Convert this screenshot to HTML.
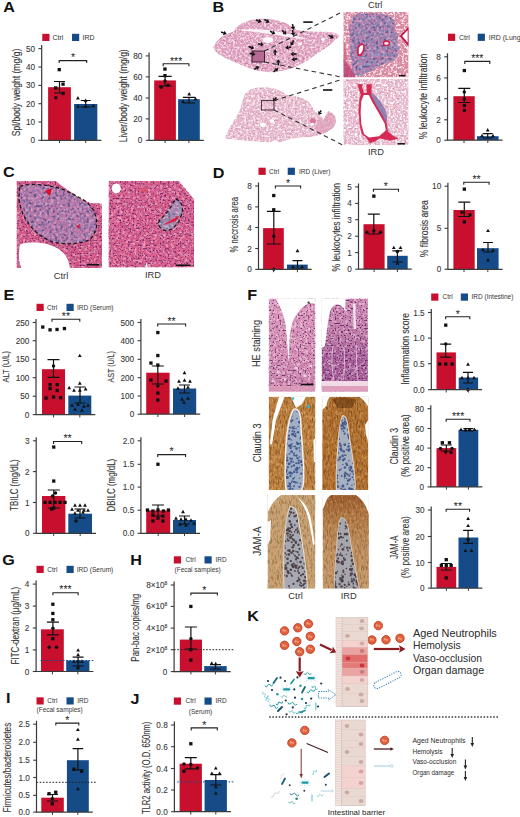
<!DOCTYPE html>
<html><head><meta charset="utf-8"><style>
html,body{margin:0;padding:0;background:#fff;width:520px;height:817px;overflow:hidden}
svg{display:block}
text{font-family:"Liberation Sans", sans-serif}
</style></head><body>
<svg width="520" height="817" viewBox="0 0 520 817">
<rect width="520" height="817" fill="#fff"/>
<defs>
<filter id="spW" x="0" y="0" width="100%" height="100%" filterUnits="objectBoundingBox" color-interpolation-filters="sRGB"><feTurbulence type="fractalNoise" baseFrequency="0.45" numOctaves="2" seed="4"/><feColorMatrix type="matrix" values="0 0 0 0 1.000  0 0 0 0 1.000  0 0 0 0 1.000  5 0 0 0 -2.3"/></filter>
<filter id="spW2" x="0" y="0" width="100%" height="100%" filterUnits="objectBoundingBox" color-interpolation-filters="sRGB"><feTurbulence type="fractalNoise" baseFrequency="0.35" numOctaves="2" seed="9"/><feColorMatrix type="matrix" values="0 0 0 0 1.000  0 0 0 0 0.941  0 0 0 0 0.973  5 0 0 0 -2.4"/></filter>
<filter id="spP" x="0" y="0" width="100%" height="100%" filterUnits="objectBoundingBox" color-interpolation-filters="sRGB"><feTurbulence type="fractalNoise" baseFrequency="0.45" numOctaves="1" seed="7"/><feColorMatrix type="matrix" values="0 0 0 0 0.314  0 0 0 0 0.078  0 0 0 0 0.353  0 6 0 0 -3.3"/></filter>
<filter id="spP2" x="0" y="0" width="100%" height="100%" filterUnits="objectBoundingBox" color-interpolation-filters="sRGB"><feTurbulence type="fractalNoise" baseFrequency="0.6" numOctaves="1" seed="3"/><feColorMatrix type="matrix" values="0 0 0 0 0.314  0 0 0 0 0.078  0 0 0 0 0.353  0 6 0 0 -3.3"/></filter>
<filter id="spB" x="0" y="0" width="100%" height="100%" filterUnits="objectBoundingBox" color-interpolation-filters="sRGB"><feTurbulence type="fractalNoise" baseFrequency="0.38" numOctaves="1" seed="11"/><feColorMatrix type="matrix" values="0 0 0 0 0.157  0 0 0 0 0.216  0 0 0 0 0.451  0 6 0 0 -3.2"/></filter>
<filter id="spBl" x="0" y="0" width="100%" height="100%" filterUnits="objectBoundingBox" color-interpolation-filters="sRGB"><feTurbulence type="fractalNoise" baseFrequency="0.3" numOctaves="2" seed="12"/><feColorMatrix type="matrix" values="0 0 0 0 0.392  0 0 0 0 0.373  0 0 0 0 0.667  0 0 4 0 -1.6"/></filter>
<filter id="spD" x="0" y="0" width="100%" height="100%" filterUnits="objectBoundingBox" color-interpolation-filters="sRGB"><feTurbulence type="fractalNoise" baseFrequency="0.8 0.2" numOctaves="2" seed="5"/><feColorMatrix type="matrix" values="0 0 0 0 0.431  0 0 0 0 0.235  0 0 0 0 0.078  4 0 0 0 -1.9"/></filter>
<filter id="spL" x="0" y="0" width="100%" height="100%" filterUnits="objectBoundingBox" color-interpolation-filters="sRGB"><feTurbulence type="fractalNoise" baseFrequency="0.5 0.25" numOctaves="2" seed="21"/><feColorMatrix type="matrix" values="0 0 0 0 0.922  0 0 0 0 0.725  0 0 0 0 0.471  4 0 0 0 -1.9"/></filter>
<filter id="spDk" x="0" y="0" width="100%" height="100%" filterUnits="objectBoundingBox" color-interpolation-filters="sRGB"><feTurbulence type="fractalNoise" baseFrequency="0.32" numOctaves="1" seed="17"/><feColorMatrix type="matrix" values="0 0 0 0 0.196  0 0 0 0 0.137  0 0 0 0 0.176  0 6 0 0 -3.3"/></filter>
<filter id="spPk" x="0" y="0" width="100%" height="100%" filterUnits="objectBoundingBox" color-interpolation-filters="sRGB"><feTurbulence type="fractalNoise" baseFrequency="0.3" numOctaves="2" seed="23"/><feColorMatrix type="matrix" values="0 0 0 0 0.882  0 0 0 0 0.471  0 0 0 0 0.647  5 0 0 0 -2.2"/></filter>
<linearGradient id="gHE2" x1="0" y1="0" x2="0" y2="1"><stop offset="0" stop-color="#cd88b0"/><stop offset="0.4" stop-color="#c07aa6"/><stop offset="0.6" stop-color="#a85e98"/><stop offset="1" stop-color="#a05890"/></linearGradient>
<linearGradient id="gJA2" x1="0" y1="0" x2="0" y2="1"><stop offset="0" stop-color="#9a5a2c"/><stop offset="0.25" stop-color="#b07a48"/><stop offset="0.6" stop-color="#bf9264"/><stop offset="1" stop-color="#c29a6c"/></linearGradient>
<linearGradient id="gHE1" x1="0" y1="0" x2="0" y2="1"><stop offset="0" stop-color="#dc96ba"/><stop offset="0.6" stop-color="#d48cb2"/><stop offset="1" stop-color="#c87ea8"/></linearGradient>
<filter id="blur1"><feGaussianBlur stdDeviation="0.45"/></filter>
<filter id="blur2"><feGaussianBlur stdDeviation="0.8"/></filter>
<clipPath id="cl_l1"><path d="M213.0 47.5L216.0 42.0L221.0 37.0L228.0 33.5L234.0 31.0L236.0 27.5L242.0 23.0L250.0 20.0L258.0 18.8L267.0 18.6L276.0 19.8L285.0 22.5L292.0 26.5L297.0 30.0L305.0 31.0L315.0 31.5L326.0 31.5L334.0 32.5L340.0 34.5L338.0 38.0L330.0 45.0L320.0 52.0L310.0 59.0L300.0 65.0L292.0 68.5L282.0 71.0L270.0 72.5L258.0 71.0L247.0 67.5L236.0 63.0L226.0 58.5L218.0 54.0L214.0 50.0Z"/></clipPath>
<clipPath id="cl_l2"><path d="M224.5 138.5L228.0 130.0L232.5 123.0L237.0 115.0L240.5 108.0L242.5 100.0L245.0 93.5L250.0 89.5L257.0 87.5L265.0 87.0L273.0 88.0L281.0 91.0L287.0 94.5L295.0 96.0L303.0 98.0L309.0 102.0L314.2 109.4L319.0 114.5L323.8 119.0L325.8 114.5L328.2 110.9L330.0 111.5L333.0 113.5L335.4 116.2L336.0 120.0L335.9 122.9L333.5 127.7L326.7 132.5L319.0 135.4L309.4 137.3L303.0 137.5L293.0 138.5L284.0 141.0L279.0 142.5L275.0 140.0L270.0 142.5L262.0 142.0L253.0 141.5L243.0 140.5L233.0 139.5Z"/></clipPath>
<clipPath id="cl_i1"><path d="M343.3 11.8L408.6 11.8L408.6 77.4L343.3 77.4Z"/></clipPath>
<clipPath id="cl_i1b"><path d="M360 13 C366 15 372 12 378 14 C384 13 390 16 394 20 C396 24 393 28 397 33 C399 38 396 42 399 47 C401 52 397 56 395 60 C390 63 384 62 380 66 C375 69 370 71 366 73 C362 76 357 77 354 74 C351 70 353 64 351 59 C349 54 352 50 350 45 C348 40 351 36 349 31 C348 26 352 22 353 18 C355 15 357 13 360 13Z"/></clipPath>
<clipPath id="cl_i2"><path d="M343.3 79.0L408.6 79.0L408.6 145.2L343.3 145.2Z"/></clipPath>
<clipPath id="cl_c1"><path d="M16.5 181.0L102.0 181.0L102.0 268.0L16.5 268.0Z"/></clipPath>
<clipPath id="cl_c1i"><path d="M20.1 186.4 C25 184 38 184 46.5 185.4 C55 187 60 188 63.5 189.6 C70 193 75 195 78.3 197 C84 200 87 202 88.9 204.4 C93 209 95 212 95.2 215 C97 220 97 224 96.3 227.7 C95 232 93 236 91 238.3 C88 241 84 242 80.4 242.5 C73 244 68 244 63.5 243.6 C57 243 52 242 48.7 240.4 C43 237 39 235 36 232 C32 228 29 225 27.5 221.4 C24 217 22 213 21.2 208.7 C19.5 204 19 201 19 198 C19 193 19.5 189 20.1 186.4Z"/></clipPath>
<clipPath id="cl_c2"><path d="M108.5 181.0L179.0 181.0L194.0 199.0L194.0 267.5L108.5 267.5Z"/></clipPath>
<clipPath id="cl_c2l"><path d="M175.8 199.2 C178 200 180 201 180.7 202.5 C182 205 182.5 208 182.4 210.8 C182 214 180.5 218 179 220.7 C177.5 223.5 176 225.5 174 227.3 C172 229 170 230 167.5 230.6 C165 230.8 162.5 229.8 160.9 228.1 C159 226.5 158 224.8 158.4 223.1 C159 220.5 160.5 219 162.5 217.4 C164.5 215.5 166 213.5 167.5 211.6 C169.5 209 171 206.5 172.5 204.1 C173.5 202 174.5 200.5 175.8 199.2Z"/></clipPath>
<clipPath id="cl_he1"><path d="M268.7 298.5L315.4 298.5L315.4 391.7L268.7 391.7Z"/></clipPath>
<clipPath id="cl_he2"><path d="M321.6 298.5L367.9 298.5L367.9 391.7L321.6 391.7Z"/></clipPath>
<clipPath id="cl_cl1"><path d="M268.7 396.7L315.4 396.7L315.4 490.1L268.7 490.1Z"/></clipPath>
<clipPath id="cl_cl1b"><path d="M294 410 C298 409 300 414 300 422 C301 440 303 460 303 475 C303 484 302 490.1 300 490.1 L287 490.1 C285 480 286 466 286.5 450 C287 435 289 420 294 410Z"/></clipPath>
<clipPath id="cl_cl2"><path d="M322.2 396.7L368.3 396.7L368.3 490.1L322.2 490.1Z"/></clipPath>
<clipPath id="cl_cl2b"><path d="M343 416 C346 416 347 422 348 430 C350 445 353 460 354 475 C355 484 355 490.1 354 490.1 L337 490.1 C336 478 337 465 338 450 C339 435 340 420 343 416Z"/></clipPath>
<clipPath id="cl_ja1"><path d="M267.5 495.1L315.4 495.1L315.4 588.7L267.5 588.7Z"/></clipPath>
<clipPath id="cl_ja1c"><path d="M290.5 507 C294.5 507 296.5 511 297.5 517 C300 532 303 550 305 566 C306 576 307 583 307 588.7 L284.5 588.7 C284 575 284 560 284.5 545 C285.5 530 286.5 515 290.5 507Z"/></clipPath>
<clipPath id="cl_ja2"><path d="M322.6 495.1L368.9 495.1L368.9 588.7L322.6 588.7Z"/></clipPath>
<clipPath id="cl_ja2c"><path d="M341 518 C345 517 347 523 348.5 531 C351 547 354 564 357 579 L359 588.7 L334.5 588.7 C334.5 575 336 560 337 545 C338 532 338.5 522 341 518Z"/></clipPath></defs>
<rect x="42.3" y="33.8" width="7.2" height="7.2" fill="#c8102e"/>
<text x="52.5" y="39.9" font-size="7" text-anchor="start" fill="#333" font-weight="normal" >Ctrl</text>
<rect x="72.0" y="33.8" width="7.2" height="7.2" fill="#154c88"/>
<text x="82.5" y="39.9" font-size="7" text-anchor="start" fill="#333" font-weight="normal" >IRD</text>
<rect x="48.1" y="87.2" width="22.8" height="53.1" fill="#c8102e"/>
<rect x="74.1" y="104.0" width="23.2" height="36.3" fill="#154c88"/>
<rect x="57.6" y="68.0" width="3.3" height="3.3" fill="#111"/>
<rect x="54.1" y="86.3" width="3.3" height="3.3" fill="#111"/>
<rect x="61.4" y="82.5" width="3.3" height="3.3" fill="#111"/>
<rect x="61.4" y="91.8" width="3.3" height="3.3" fill="#111"/>
<circle cx="55.8" cy="97.7" r="1.75" fill="#111"/>
<path d="M77.9 96.0L79.8 99.4L76.0 99.4Z" fill="#111"/>
<path d="M85.6 98.5L87.5 101.9L83.7 101.9Z" fill="#111"/>
<path d="M77.9 104.3L79.8 107.7L76.0 107.7Z" fill="#111"/>
<path d="M85.6 104.3L87.5 107.7L83.7 107.7Z" fill="#111"/>
<path d="M93.3 103.8L95.2 107.2L91.4 107.2Z" fill="#111"/>
<path d="M59.5 81.5V93.0M54.0 81.5H65.0M54.0 93.0H65.0" stroke="#111" stroke-width="1.2" fill="none"/>
<path d="M85.7 100.5V107.0M80.7 100.5H90.7M80.7 107.0H90.7" stroke="#111" stroke-width="1.2" fill="none"/>
<path d="M41.7 45.1V140.3H101.3" stroke="#3a3a3a" stroke-width="1.2" fill="none"/>
<path d="M38.4 48.6H41.7" stroke="#3a3a3a" stroke-width="1.1"/>
<text x="35.0" y="51.6" font-size="8.2" text-anchor="end" fill="#383838" font-weight="normal" stroke="#404040" stroke-width="0.1">50</text>
<path d="M38.4 67.0H41.7" stroke="#3a3a3a" stroke-width="1.1"/>
<text x="35.0" y="70.0" font-size="8.2" text-anchor="end" fill="#383838" font-weight="normal" stroke="#404040" stroke-width="0.1">40</text>
<path d="M38.4 85.4H41.7" stroke="#3a3a3a" stroke-width="1.1"/>
<text x="35.0" y="88.4" font-size="8.2" text-anchor="end" fill="#383838" font-weight="normal" stroke="#404040" stroke-width="0.1">30</text>
<path d="M38.4 103.7H41.7" stroke="#3a3a3a" stroke-width="1.1"/>
<text x="35.0" y="106.7" font-size="8.2" text-anchor="end" fill="#383838" font-weight="normal" stroke="#404040" stroke-width="0.1">20</text>
<path d="M38.4 122.0H41.7" stroke="#3a3a3a" stroke-width="1.1"/>
<text x="35.0" y="125.0" font-size="8.2" text-anchor="end" fill="#383838" font-weight="normal" stroke="#404040" stroke-width="0.1">10</text>
<path d="M38.4 140.3H41.7" stroke="#3a3a3a" stroke-width="1.1"/>
<text x="35.0" y="143.3" font-size="8.2" text-anchor="end" fill="#383838" font-weight="normal" stroke="#404040" stroke-width="0.1">0</text>
<path d="M59.5 140.3V143.1" stroke="#3a3a3a" stroke-width="1"/>
<path d="M85.7 140.3V143.1" stroke="#3a3a3a" stroke-width="1"/>
<path d="M59.2 63.1V60.6H86.7V63.1" stroke="#222" stroke-width="1.1" fill="none"/>
<text x="73.0" y="61.3" font-size="10.5" text-anchor="middle" fill="#222" font-weight="normal" >*</text>
<text transform="translate(20.1,92.5) rotate(-90)" font-size="10" text-anchor="middle" fill="#383838" stroke="#383838" stroke-width="0.12" textLength="87.5" lengthAdjust="spacingAndGlyphs">Spl/body weight (mg/g)</text>
<rect x="154.2" y="80.4" width="21.7" height="59.9" fill="#c8102e"/>
<rect x="178.1" y="99.2" width="21.7" height="41.1" fill="#154c88"/>
<rect x="163.3" y="67.4" width="3.3" height="3.3" fill="#111"/>
<rect x="163.3" y="74.0" width="3.3" height="3.3" fill="#111"/>
<circle cx="161.1" cy="87.3" r="1.75" fill="#111"/>
<circle cx="168.0" cy="85.2" r="1.75" fill="#111"/>
<circle cx="165.0" cy="81.0" r="1.75" fill="#111"/>
<path d="M189.2 92.0L191.1 95.4L187.3 95.4Z" fill="#111"/>
<path d="M183.0 99.3L184.9 102.7L181.1 102.7Z" fill="#111"/>
<path d="M195.5 96.8L197.4 100.2L193.6 100.2Z" fill="#111"/>
<path d="M165.1 76.4V86.0M158.5 76.4H171.7M158.5 86.0H171.7" stroke="#111" stroke-width="1.2" fill="none"/>
<path d="M189.0 97.4V103.0M182.9 97.4H195.1M182.9 103.0H195.1" stroke="#111" stroke-width="1.2" fill="none"/>
<path d="M149.1 52.4V140.3H203.8" stroke="#3a3a3a" stroke-width="1.2" fill="none"/>
<path d="M145.8 55.9H149.1" stroke="#3a3a3a" stroke-width="1.1"/>
<text x="142.4" y="58.9" font-size="8.2" text-anchor="end" fill="#383838" font-weight="normal" stroke="#404040" stroke-width="0.1">80</text>
<path d="M145.8 76.9H149.1" stroke="#3a3a3a" stroke-width="1.1"/>
<text x="142.4" y="79.9" font-size="8.2" text-anchor="end" fill="#383838" font-weight="normal" stroke="#404040" stroke-width="0.1">60</text>
<path d="M145.8 98.0H149.1" stroke="#3a3a3a" stroke-width="1.1"/>
<text x="142.4" y="101.0" font-size="8.2" text-anchor="end" fill="#383838" font-weight="normal" stroke="#404040" stroke-width="0.1">40</text>
<path d="M145.8 118.9H149.1" stroke="#3a3a3a" stroke-width="1.1"/>
<text x="142.4" y="121.9" font-size="8.2" text-anchor="end" fill="#383838" font-weight="normal" stroke="#404040" stroke-width="0.1">20</text>
<path d="M145.8 140.3H149.1" stroke="#3a3a3a" stroke-width="1.1"/>
<text x="142.4" y="143.3" font-size="8.2" text-anchor="end" fill="#383838" font-weight="normal" stroke="#404040" stroke-width="0.1">0</text>
<path d="M165.1 140.3V143.1" stroke="#3a3a3a" stroke-width="1"/>
<path d="M188.9 140.3V143.1" stroke="#3a3a3a" stroke-width="1"/>
<path d="M163.2 66.3V63.8H188.9V66.3" stroke="#222" stroke-width="1.1" fill="none"/>
<text x="176.1" y="64.5" font-size="10.5" text-anchor="middle" fill="#222" font-weight="normal" >***</text>
<text transform="translate(127.4,95.8) rotate(-90)" font-size="10" text-anchor="middle" fill="#383838" stroke="#383838" stroke-width="0.12" textLength="93" lengthAdjust="spacingAndGlyphs">Liver/body weight (mg/g)</text>
<rect x="448.0" y="33.7" width="7.2" height="7.2" fill="#c8102e"/>
<text x="459.0" y="39.8" font-size="7" text-anchor="start" fill="#333" font-weight="normal" >Ctrl</text>
<rect x="477.7" y="33.7" width="7.2" height="7.2" fill="#154c88"/>
<text x="488.7" y="39.8" font-size="7" text-anchor="start" fill="#333" font-weight="normal" >IRD (Lung)</text>
<rect x="453.4" y="96.2" width="21.3" height="44.0" fill="#c8102e"/>
<rect x="477.0" y="136.2" width="21.6" height="4.0" fill="#154c88"/>
<rect x="462.7" y="68.9" width="3.3" height="3.3" fill="#111"/>
<circle cx="464.3" cy="92.1" r="1.75" fill="#111"/>
<circle cx="464.3" cy="99.0" r="1.75" fill="#111"/>
<rect x="462.7" y="103.9" width="3.3" height="3.3" fill="#111"/>
<circle cx="464.3" cy="110.4" r="1.75" fill="#111"/>
<path d="M487.7 128.1L489.6 131.5L485.8 131.5Z" fill="#111"/>
<path d="M482.0 133.8L483.9 137.2L480.1 137.2Z" fill="#111"/>
<path d="M493.0 133.8L494.9 137.2L491.1 137.2Z" fill="#111"/>
<path d="M464.3 88.3V102.5M458.3 88.3H470.3M458.3 102.5H470.3" stroke="#111" stroke-width="1.2" fill="none"/>
<path d="M487.7 133.6V138.0M482.7 133.6H492.7M482.7 138.0H492.7" stroke="#111" stroke-width="1.2" fill="none"/>
<path d="M447.5 53.3V140.2H502.6" stroke="#3a3a3a" stroke-width="1.2" fill="none"/>
<path d="M444.2 56.8H447.5" stroke="#3a3a3a" stroke-width="1.1"/>
<text x="440.8" y="59.8" font-size="8.2" text-anchor="end" fill="#383838" font-weight="normal" stroke="#404040" stroke-width="0.1">8</text>
<path d="M444.2 77.9H447.5" stroke="#3a3a3a" stroke-width="1.1"/>
<text x="440.8" y="80.9" font-size="8.2" text-anchor="end" fill="#383838" font-weight="normal" stroke="#404040" stroke-width="0.1">6</text>
<path d="M444.2 98.7H447.5" stroke="#3a3a3a" stroke-width="1.1"/>
<text x="440.8" y="101.7" font-size="8.2" text-anchor="end" fill="#383838" font-weight="normal" stroke="#404040" stroke-width="0.1">4</text>
<path d="M444.2 119.8H447.5" stroke="#3a3a3a" stroke-width="1.1"/>
<text x="440.8" y="122.8" font-size="8.2" text-anchor="end" fill="#383838" font-weight="normal" stroke="#404040" stroke-width="0.1">2</text>
<path d="M444.2 140.2H447.5" stroke="#3a3a3a" stroke-width="1.1"/>
<text x="440.8" y="143.2" font-size="8.2" text-anchor="end" fill="#383838" font-weight="normal" stroke="#404040" stroke-width="0.1">0</text>
<path d="M464.0 140.2V143.0" stroke="#3a3a3a" stroke-width="1"/>
<path d="M487.8 140.2V143.0" stroke="#3a3a3a" stroke-width="1"/>
<path d="M464.8 63.9V61.4H489.8V63.9" stroke="#222" stroke-width="1.1" fill="none"/>
<text x="477.3" y="62.1" font-size="10.5" text-anchor="middle" fill="#222" font-weight="normal" >***</text>
<text transform="translate(427.0,96.5) rotate(-90)" font-size="10.6" text-anchor="middle" fill="#383838" stroke="#383838" stroke-width="0.12" textLength="85.6" lengthAdjust="spacingAndGlyphs">% leukocyte infiltration</text>
<rect x="258.5" y="167.7" width="7.2" height="7.2" fill="#c8102e"/>
<text x="269.0" y="173.6" font-size="6.5" text-anchor="start" fill="#333" font-weight="normal" >Ctrl</text>
<rect x="287.7" y="167.7" width="7.2" height="7.2" fill="#154c88"/>
<text x="299.0" y="173.6" font-size="6.5" text-anchor="start" fill="#333" font-weight="normal" >IRD (Liver)</text>
<rect x="263.1" y="228.1" width="20.7" height="41.3" fill="#c8102e"/>
<rect x="287.0" y="264.6" width="20.7" height="4.8" fill="#154c88"/>
<rect x="272.1" y="193.9" width="3.3" height="3.3" fill="#111"/>
<rect x="272.1" y="208.1" width="3.3" height="3.3" fill="#111"/>
<circle cx="273.8" cy="236.2" r="1.75" fill="#111"/>
<path d="M273.8 267.2L275.9 269.4L273.8 271.6L271.6 269.4Z" fill="#111"/>
<path d="M297.5 248.8L299.4 252.2L295.6 252.2Z" fill="#111"/>
<path d="M293.0 264.8L294.9 268.2L291.1 268.2Z" fill="#111"/>
<path d="M302.0 264.8L303.9 268.2L300.1 268.2Z" fill="#111"/>
<path d="M273.8 211.3V244.0M266.9 211.3H280.6M266.9 244.0H280.6" stroke="#111" stroke-width="1.2" fill="none"/>
<path d="M297.5 260.6V269.0M292.5 260.6H302.5M292.5 269.0H302.5" stroke="#111" stroke-width="1.2" fill="none"/>
<path d="M258.5 182.5V269.4H311.7" stroke="#3a3a3a" stroke-width="1.2" fill="none"/>
<path d="M255.2 186.0H258.5" stroke="#3a3a3a" stroke-width="1.1"/>
<text x="251.8" y="189.0" font-size="8.2" text-anchor="end" fill="#383838" font-weight="normal" stroke="#404040" stroke-width="0.1">8</text>
<path d="M255.2 206.9H258.5" stroke="#3a3a3a" stroke-width="1.1"/>
<text x="251.8" y="209.9" font-size="8.2" text-anchor="end" fill="#383838" font-weight="normal" stroke="#404040" stroke-width="0.1">6</text>
<path d="M255.2 227.5H258.5" stroke="#3a3a3a" stroke-width="1.1"/>
<text x="251.8" y="230.5" font-size="8.2" text-anchor="end" fill="#383838" font-weight="normal" stroke="#404040" stroke-width="0.1">4</text>
<path d="M255.2 248.5H258.5" stroke="#3a3a3a" stroke-width="1.1"/>
<text x="251.8" y="251.5" font-size="8.2" text-anchor="end" fill="#383838" font-weight="normal" stroke="#404040" stroke-width="0.1">2</text>
<path d="M255.2 269.4H258.5" stroke="#3a3a3a" stroke-width="1.1"/>
<text x="251.8" y="272.4" font-size="8.2" text-anchor="end" fill="#383838" font-weight="normal" stroke="#404040" stroke-width="0.1">0</text>
<path d="M273.5 269.4V272.2" stroke="#3a3a3a" stroke-width="1"/>
<path d="M297.4 269.4V272.2" stroke="#3a3a3a" stroke-width="1"/>
<path d="M275.4 188.5V186.0H300.6V188.5" stroke="#222" stroke-width="1.1" fill="none"/>
<text x="288.0" y="186.7" font-size="10.5" text-anchor="middle" fill="#222" font-weight="normal" >*</text>
<text transform="translate(237.5,224.7) rotate(-90)" font-size="10.6" text-anchor="middle" fill="#383838" stroke="#383838" stroke-width="0.12" textLength="55.6" lengthAdjust="spacingAndGlyphs">% necrosis area</text>
<rect x="363.5" y="224.2" width="21.1" height="45.0" fill="#c8102e"/>
<rect x="387.2" y="255.8" width="20.5" height="13.4" fill="#154c88"/>
<rect x="372.2" y="194.5" width="3.3" height="3.3" fill="#111"/>
<circle cx="366.9" cy="232.3" r="1.75" fill="#111"/>
<circle cx="373.8" cy="230.8" r="1.75" fill="#111"/>
<circle cx="380.5" cy="232.3" r="1.75" fill="#111"/>
<path d="M393.8 245.7L395.7 249.1L391.9 249.1Z" fill="#111"/>
<path d="M400.5 245.7L402.4 249.1L398.6 249.1Z" fill="#111"/>
<circle cx="397.4" cy="251.5" r="1.75" fill="#111"/>
<path d="M397.4 261.3L399.3 264.7L395.5 264.7Z" fill="#111"/>
<path d="M373.8 214.2V234.0M367.8 214.2H379.8M367.8 234.0H379.8" stroke="#111" stroke-width="1.2" fill="none"/>
<path d="M397.4 250.8V262.0M392.4 250.8H402.4M392.4 262.0H402.4" stroke="#111" stroke-width="1.2" fill="none"/>
<path d="M358.5 183.4V269.2H411.7" stroke="#3a3a3a" stroke-width="1.2" fill="none"/>
<path d="M355.2 186.9H358.5" stroke="#3a3a3a" stroke-width="1.1"/>
<text x="351.8" y="189.9" font-size="8.2" text-anchor="end" fill="#383838" font-weight="normal" stroke="#404040" stroke-width="0.1">5</text>
<path d="M355.2 203.4H358.5" stroke="#3a3a3a" stroke-width="1.1"/>
<text x="351.8" y="206.4" font-size="8.2" text-anchor="end" fill="#383838" font-weight="normal" stroke="#404040" stroke-width="0.1">4</text>
<path d="M355.2 219.7H358.5" stroke="#3a3a3a" stroke-width="1.1"/>
<text x="351.8" y="222.7" font-size="8.2" text-anchor="end" fill="#383838" font-weight="normal" stroke="#404040" stroke-width="0.1">3</text>
<path d="M355.2 236.2H358.5" stroke="#3a3a3a" stroke-width="1.1"/>
<text x="351.8" y="239.2" font-size="8.2" text-anchor="end" fill="#383838" font-weight="normal" stroke="#404040" stroke-width="0.1">2</text>
<path d="M355.2 252.6H358.5" stroke="#3a3a3a" stroke-width="1.1"/>
<text x="351.8" y="255.6" font-size="8.2" text-anchor="end" fill="#383838" font-weight="normal" stroke="#404040" stroke-width="0.1">1</text>
<path d="M355.2 269.2H358.5" stroke="#3a3a3a" stroke-width="1.1"/>
<text x="351.8" y="272.2" font-size="8.2" text-anchor="end" fill="#383838" font-weight="normal" stroke="#404040" stroke-width="0.1">0</text>
<path d="M374.1 269.2V272.0" stroke="#3a3a3a" stroke-width="1"/>
<path d="M397.4 269.2V272.0" stroke="#3a3a3a" stroke-width="1"/>
<path d="M373.4 191.7V189.2H398.5V191.7" stroke="#222" stroke-width="1.1" fill="none"/>
<text x="385.9" y="189.9" font-size="10.5" text-anchor="middle" fill="#222" font-weight="normal" >*</text>
<text transform="translate(340.3,227.2) rotate(-90)" font-size="10.6" text-anchor="middle" fill="#383838" stroke="#383838" stroke-width="0.12" textLength="88.5" lengthAdjust="spacingAndGlyphs">% leukocytes infiltration</text>
<rect x="453.4" y="210.0" width="21.3" height="59.3" fill="#c8102e"/>
<rect x="477.0" y="248.2" width="21.6" height="21.1" fill="#154c88"/>
<rect x="462.7" y="187.5" width="3.3" height="3.3" fill="#111"/>
<circle cx="462.0" cy="212.2" r="1.75" fill="#111"/>
<circle cx="470.0" cy="214.8" r="1.75" fill="#111"/>
<rect x="462.7" y="220.3" width="3.3" height="3.3" fill="#111"/>
<path d="M488.0 228.7L489.9 232.1L486.1 232.1Z" fill="#111"/>
<path d="M483.0 247.7L484.9 251.1L481.1 251.1Z" fill="#111"/>
<path d="M493.0 248.3L494.9 251.7L491.1 251.7Z" fill="#111"/>
<path d="M488.0 258.1L489.9 261.5L486.1 261.5Z" fill="#111"/>
<path d="M464.3 202.2V216.5M458.3 202.2H470.3M458.3 216.5H470.3" stroke="#111" stroke-width="1.2" fill="none"/>
<path d="M488.0 242.5V252.0M483.0 242.5H493.0M483.0 252.0H493.0" stroke="#111" stroke-width="1.2" fill="none"/>
<path d="M447.9 182.7V269.3H502.6" stroke="#3a3a3a" stroke-width="1.2" fill="none"/>
<path d="M444.6 186.2H447.9" stroke="#3a3a3a" stroke-width="1.1"/>
<text x="441.2" y="189.2" font-size="8.2" text-anchor="end" fill="#383838" font-weight="normal" stroke="#404040" stroke-width="0.1">10</text>
<path d="M444.6 228.3H447.9" stroke="#3a3a3a" stroke-width="1.1"/>
<text x="441.2" y="231.3" font-size="8.2" text-anchor="end" fill="#383838" font-weight="normal" stroke="#404040" stroke-width="0.1">5</text>
<path d="M444.6 269.3H447.9" stroke="#3a3a3a" stroke-width="1.1"/>
<text x="441.2" y="272.3" font-size="8.2" text-anchor="end" fill="#383838" font-weight="normal" stroke="#404040" stroke-width="0.1">0</text>
<path d="M464.0 269.3V272.1" stroke="#3a3a3a" stroke-width="1"/>
<path d="M487.8 269.3V272.1" stroke="#3a3a3a" stroke-width="1"/>
<path d="M463.8 184.8V182.3H489.1V184.8" stroke="#222" stroke-width="1.1" fill="none"/>
<text x="476.5" y="183.0" font-size="10.5" text-anchor="middle" fill="#222" font-weight="normal" >**</text>
<text transform="translate(428.3,228.7) rotate(-90)" font-size="10.6" text-anchor="middle" fill="#383838" stroke="#383838" stroke-width="0.12" textLength="57.1" lengthAdjust="spacingAndGlyphs">% fibrosis area</text>
<rect x="36.5" y="303.8" width="7.2" height="7.2" fill="#c8102e"/>
<text x="47.0" y="309.7" font-size="6.5" text-anchor="start" fill="#333" font-weight="normal" >Ctrl</text>
<rect x="66.5" y="303.8" width="7.2" height="7.2" fill="#154c88"/>
<text x="77.0" y="309.7" font-size="6.5" text-anchor="start" fill="#333" font-weight="normal" >IRD (Serum)</text>
<rect x="42.0" y="369.2" width="23.0" height="45.4" fill="#c8102e"/>
<rect x="68.3" y="395.6" width="23.0" height="19.0" fill="#154c88"/>
<rect x="41.1" y="325.4" width="3.3" height="3.3" fill="#111"/>
<rect x="48.4" y="328.2" width="3.3" height="3.3" fill="#111"/>
<rect x="55.4" y="327.8" width="3.3" height="3.3" fill="#111"/>
<rect x="62.8" y="326.9" width="3.3" height="3.3" fill="#111"/>
<circle cx="53.5" cy="366.0" r="1.75" fill="#111"/>
<rect x="48.4" y="383.0" width="3.3" height="3.3" fill="#111"/>
<rect x="55.6" y="383.0" width="3.3" height="3.3" fill="#111"/>
<rect x="48.4" y="386.9" width="3.3" height="3.3" fill="#111"/>
<rect x="55.6" y="388.8" width="3.3" height="3.3" fill="#111"/>
<rect x="44.4" y="396.4" width="3.3" height="3.3" fill="#111"/>
<rect x="51.9" y="395.4" width="3.3" height="3.3" fill="#111"/>
<rect x="59.0" y="396.1" width="3.3" height="3.3" fill="#111"/>
<path d="M79.8 353.7L81.7 357.1L77.9 357.1Z" fill="#111"/>
<path d="M79.8 381.3L81.7 384.7L77.9 384.7Z" fill="#111"/>
<path d="M69.2 385.8L71.1 389.2L67.3 389.2Z" fill="#111"/>
<path d="M74.0 388.3L75.9 391.7L72.1 391.7Z" fill="#111"/>
<path d="M79.8 388.3L81.7 391.7L77.9 391.7Z" fill="#111"/>
<path d="M85.6 387.1L87.5 390.5L83.7 390.5Z" fill="#111"/>
<path d="M72.0 403.3L73.9 406.7L70.1 406.7Z" fill="#111"/>
<path d="M78.0 402.3L79.9 405.7L76.1 405.7Z" fill="#111"/>
<path d="M84.0 404.3L85.9 407.7L82.1 407.7Z" fill="#111"/>
<path d="M88.0 403.3L89.9 406.7L86.1 406.7Z" fill="#111"/>
<path d="M75.0 407.3L76.9 410.7L73.1 410.7Z" fill="#111"/>
<path d="M82.0 408.3L83.9 411.7L80.1 411.7Z" fill="#111"/>
<path d="M53.5 359.6V377.3M47.5 359.6H59.5M47.5 377.3H59.5" stroke="#111" stroke-width="1.2" fill="none"/>
<path d="M80.0 387.0V403.0M74.5 387.0H85.5M74.5 403.0H85.5" stroke="#111" stroke-width="1.2" fill="none"/>
<path d="M36.0 319.0V414.6H95.3" stroke="#3a3a3a" stroke-width="1.2" fill="none"/>
<path d="M32.7 322.5H36.0" stroke="#3a3a3a" stroke-width="1.1"/>
<text x="29.3" y="325.5" font-size="8.2" text-anchor="end" fill="#383838" font-weight="normal" stroke="#404040" stroke-width="0.1">250</text>
<path d="M32.7 340.7H36.0" stroke="#3a3a3a" stroke-width="1.1"/>
<text x="29.3" y="343.7" font-size="8.2" text-anchor="end" fill="#383838" font-weight="normal" stroke="#404040" stroke-width="0.1">200</text>
<path d="M32.7 359.3H36.0" stroke="#3a3a3a" stroke-width="1.1"/>
<text x="29.3" y="362.3" font-size="8.2" text-anchor="end" fill="#383838" font-weight="normal" stroke="#404040" stroke-width="0.1">150</text>
<path d="M32.7 377.7H36.0" stroke="#3a3a3a" stroke-width="1.1"/>
<text x="29.3" y="380.7" font-size="8.2" text-anchor="end" fill="#383838" font-weight="normal" stroke="#404040" stroke-width="0.1">100</text>
<path d="M32.7 396.2H36.0" stroke="#3a3a3a" stroke-width="1.1"/>
<text x="29.3" y="399.2" font-size="8.2" text-anchor="end" fill="#383838" font-weight="normal" stroke="#404040" stroke-width="0.1">50</text>
<path d="M32.7 414.6H36.0" stroke="#3a3a3a" stroke-width="1.1"/>
<text x="29.3" y="417.6" font-size="8.2" text-anchor="end" fill="#383838" font-weight="normal" stroke="#404040" stroke-width="0.1">0</text>
<path d="M53.5 414.6V417.4" stroke="#3a3a3a" stroke-width="1"/>
<path d="M79.8 414.6V417.4" stroke="#3a3a3a" stroke-width="1"/>
<path d="M52.0 321.7V319.2H79.8V321.7" stroke="#222" stroke-width="1.1" fill="none"/>
<text x="65.9" y="319.9" font-size="10.5" text-anchor="middle" fill="#222" font-weight="normal" >**</text>
<text transform="translate(8.9,366.8) rotate(-90)" font-size="9.6" text-anchor="middle" fill="#383838" stroke="#383838" stroke-width="0.12" textLength="31.5" lengthAdjust="spacingAndGlyphs">ALT (U/L)</text>
<rect x="146.2" y="372.7" width="23.4" height="41.5" fill="#c8102e"/>
<rect x="173.0" y="388.5" width="23.2" height="25.7" fill="#154c88"/>
<rect x="156.2" y="330.9" width="3.3" height="3.3" fill="#111"/>
<rect x="156.2" y="353.9" width="3.3" height="3.3" fill="#111"/>
<rect x="149.3" y="361.4" width="3.3" height="3.3" fill="#111"/>
<rect x="156.2" y="363.4" width="3.3" height="3.3" fill="#111"/>
<rect x="149.3" y="378.4" width="3.3" height="3.3" fill="#111"/>
<rect x="164.3" y="379.4" width="3.3" height="3.3" fill="#111"/>
<circle cx="157.8" cy="386.0" r="1.75" fill="#111"/>
<rect x="156.2" y="391.4" width="3.3" height="3.3" fill="#111"/>
<rect x="156.2" y="398.4" width="3.3" height="3.3" fill="#111"/>
<path d="M184.5 370.8L186.4 374.2L182.6 374.2Z" fill="#111"/>
<path d="M179.0 379.3L180.9 382.7L177.1 382.7Z" fill="#111"/>
<path d="M184.5 378.3L186.4 381.7L182.6 381.7Z" fill="#111"/>
<path d="M190.0 379.3L191.9 382.7L188.1 382.7Z" fill="#111"/>
<path d="M178.0 386.3L179.9 389.7L176.1 389.7Z" fill="#111"/>
<path d="M188.0 385.3L189.9 388.7L186.1 388.7Z" fill="#111"/>
<path d="M182.0 397.3L183.9 400.7L180.1 400.7Z" fill="#111"/>
<path d="M188.0 396.3L189.9 399.7L186.1 399.7Z" fill="#111"/>
<path d="M184.0 400.3L185.9 403.7L182.1 403.7Z" fill="#111"/>
<path d="M157.8 366.0V384.0M151.8 366.0H163.8M151.8 384.0H163.8" stroke="#111" stroke-width="1.2" fill="none"/>
<path d="M184.5 385.0V393.0M179.0 385.0H190.0M179.0 393.0H190.0" stroke="#111" stroke-width="1.2" fill="none"/>
<path d="M140.9 319.0V414.2H200.2" stroke="#3a3a3a" stroke-width="1.2" fill="none"/>
<path d="M137.6 322.5H140.9" stroke="#3a3a3a" stroke-width="1.1"/>
<text x="134.2" y="325.5" font-size="8.2" text-anchor="end" fill="#383838" font-weight="normal" stroke="#404040" stroke-width="0.1">500</text>
<path d="M137.6 340.7H140.9" stroke="#3a3a3a" stroke-width="1.1"/>
<text x="134.2" y="343.7" font-size="8.2" text-anchor="end" fill="#383838" font-weight="normal" stroke="#404040" stroke-width="0.1">400</text>
<path d="M137.6 359.3H140.9" stroke="#3a3a3a" stroke-width="1.1"/>
<text x="134.2" y="362.3" font-size="8.2" text-anchor="end" fill="#383838" font-weight="normal" stroke="#404040" stroke-width="0.1">300</text>
<path d="M137.6 377.7H140.9" stroke="#3a3a3a" stroke-width="1.1"/>
<text x="134.2" y="380.7" font-size="8.2" text-anchor="end" fill="#383838" font-weight="normal" stroke="#404040" stroke-width="0.1">200</text>
<path d="M137.6 396.0H140.9" stroke="#3a3a3a" stroke-width="1.1"/>
<text x="134.2" y="399.0" font-size="8.2" text-anchor="end" fill="#383838" font-weight="normal" stroke="#404040" stroke-width="0.1">100</text>
<path d="M137.6 414.2H140.9" stroke="#3a3a3a" stroke-width="1.1"/>
<text x="134.2" y="417.2" font-size="8.2" text-anchor="end" fill="#383838" font-weight="normal" stroke="#404040" stroke-width="0.1">0</text>
<path d="M157.9 414.2V417.0" stroke="#3a3a3a" stroke-width="1"/>
<path d="M184.6 414.2V417.0" stroke="#3a3a3a" stroke-width="1"/>
<path d="M157.7 326.5V324.0H185.6V326.5" stroke="#222" stroke-width="1.1" fill="none"/>
<text x="171.6" y="324.7" font-size="10.5" text-anchor="middle" fill="#222" font-weight="normal" >**</text>
<text transform="translate(113.6,366.8) rotate(-90)" font-size="9.6" text-anchor="middle" fill="#383838" stroke="#383838" stroke-width="0.12" textLength="31.5" lengthAdjust="spacingAndGlyphs">AST (U/L)</text>
<rect x="42.0" y="496.0" width="23.4" height="37.3" fill="#c8102e"/>
<rect x="68.3" y="513.7" width="23.7" height="19.6" fill="#154c88"/>
<rect x="52.1" y="445.4" width="3.3" height="3.3" fill="#111"/>
<rect x="52.1" y="479.4" width="3.3" height="3.3" fill="#111"/>
<circle cx="55.5" cy="493.0" r="1.75" fill="#111"/>
<circle cx="52.5" cy="496.0" r="1.75" fill="#111"/>
<rect x="43.4" y="500.7" width="3.3" height="3.3" fill="#111"/>
<rect x="48.4" y="500.7" width="3.3" height="3.3" fill="#111"/>
<rect x="53.4" y="500.7" width="3.3" height="3.3" fill="#111"/>
<rect x="58.4" y="500.7" width="3.3" height="3.3" fill="#111"/>
<rect x="63.4" y="500.7" width="3.3" height="3.3" fill="#111"/>
<rect x="52.1" y="506.4" width="3.3" height="3.3" fill="#111"/>
<rect x="49.9" y="507.4" width="3.3" height="3.3" fill="#111"/>
<path d="M75.0 503.3L76.9 506.7L73.1 506.7Z" fill="#111"/>
<path d="M80.0 503.3L81.9 506.7L78.1 506.7Z" fill="#111"/>
<path d="M85.0 503.3L86.9 506.7L83.1 506.7Z" fill="#111"/>
<path d="M72.0 507.3L73.9 510.7L70.1 510.7Z" fill="#111"/>
<path d="M78.0 508.3L79.9 511.7L76.1 511.7Z" fill="#111"/>
<path d="M84.0 508.3L85.9 511.7L82.1 511.7Z" fill="#111"/>
<path d="M88.0 508.3L89.9 511.7L86.1 511.7Z" fill="#111"/>
<path d="M75.0 511.3L76.9 514.7L73.1 514.7Z" fill="#111"/>
<path d="M83.0 510.3L84.9 513.7L81.1 513.7Z" fill="#111"/>
<circle cx="76.0" cy="521.0" r="1.75" fill="#111"/>
<path d="M53.8 490.0V508.0M47.8 490.0H59.8M47.8 508.0H59.8" stroke="#111" stroke-width="1.2" fill="none"/>
<path d="M80.0 509.0V518.0M74.5 509.0H85.5M74.5 518.0H85.5" stroke="#111" stroke-width="1.2" fill="none"/>
<path d="M36.2 437.3V533.3H96.0" stroke="#3a3a3a" stroke-width="1.2" fill="none"/>
<path d="M32.9 440.8H36.2" stroke="#3a3a3a" stroke-width="1.1"/>
<text x="29.5" y="443.8" font-size="8.2" text-anchor="end" fill="#383838" font-weight="normal" stroke="#404040" stroke-width="0.1">3</text>
<path d="M32.9 471.6H36.2" stroke="#3a3a3a" stroke-width="1.1"/>
<text x="29.5" y="474.6" font-size="8.2" text-anchor="end" fill="#383838" font-weight="normal" stroke="#404040" stroke-width="0.1">2</text>
<path d="M32.9 502.5H36.2" stroke="#3a3a3a" stroke-width="1.1"/>
<text x="29.5" y="505.5" font-size="8.2" text-anchor="end" fill="#383838" font-weight="normal" stroke="#404040" stroke-width="0.1">1</text>
<path d="M32.9 533.3H36.2" stroke="#3a3a3a" stroke-width="1.1"/>
<text x="29.5" y="536.3" font-size="8.2" text-anchor="end" fill="#383838" font-weight="normal" stroke="#404040" stroke-width="0.1">0</text>
<path d="M53.7 533.3V536.1" stroke="#3a3a3a" stroke-width="1"/>
<path d="M80.2 533.3V536.1" stroke="#3a3a3a" stroke-width="1"/>
<path d="M53.5 444.0V441.5H81.7V444.0" stroke="#222" stroke-width="1.1" fill="none"/>
<text x="67.6" y="442.2" font-size="10.5" text-anchor="middle" fill="#222" font-weight="normal" >**</text>
<text transform="translate(18.1,485.1) rotate(-90)" font-size="10" text-anchor="middle" fill="#383838" stroke="#383838" stroke-width="0.12" textLength="51.4" lengthAdjust="spacingAndGlyphs">TBILC (mg/dL)</text>
<rect x="146.2" y="510.4" width="24.0" height="22.9" fill="#c8102e"/>
<rect x="173.0" y="520.0" width="23.0" height="13.3" fill="#154c88"/>
<rect x="156.3" y="462.6" width="3.3" height="3.3" fill="#111"/>
<rect x="145.8" y="508.4" width="3.3" height="3.3" fill="#111"/>
<rect x="151.3" y="509.4" width="3.3" height="3.3" fill="#111"/>
<rect x="156.3" y="508.4" width="3.3" height="3.3" fill="#111"/>
<rect x="161.8" y="509.4" width="3.3" height="3.3" fill="#111"/>
<rect x="166.8" y="508.4" width="3.3" height="3.3" fill="#111"/>
<rect x="151.3" y="513.4" width="3.3" height="3.3" fill="#111"/>
<rect x="156.3" y="516.4" width="3.3" height="3.3" fill="#111"/>
<rect x="161.3" y="514.4" width="3.3" height="3.3" fill="#111"/>
<rect x="151.3" y="519.4" width="3.3" height="3.3" fill="#111"/>
<rect x="161.3" y="519.4" width="3.3" height="3.3" fill="#111"/>
<path d="M183.0 509.8L184.9 513.2L181.1 513.2Z" fill="#111"/>
<path d="M176.0 516.3L177.9 519.7L174.1 519.7Z" fill="#111"/>
<path d="M181.0 517.3L182.9 520.7L179.1 520.7Z" fill="#111"/>
<path d="M186.0 517.3L187.9 520.7L184.1 520.7Z" fill="#111"/>
<path d="M191.0 518.3L192.9 521.7L189.1 521.7Z" fill="#111"/>
<path d="M180.0 522.3L181.9 525.7L178.1 525.7Z" fill="#111"/>
<path d="M186.0 523.3L187.9 526.7L184.1 526.7Z" fill="#111"/>
<path d="M194.0 521.3L195.9 524.7L192.1 524.7Z" fill="#111"/>
<path d="M158.0 505.0V516.0M152.0 505.0H164.0M152.0 516.0H164.0" stroke="#111" stroke-width="1.2" fill="none"/>
<path d="M184.5 516.0V524.0M179.0 516.0H190.0M179.0 524.0H190.0" stroke="#111" stroke-width="1.2" fill="none"/>
<path d="M140.9 437.3V533.3H200.0" stroke="#3a3a3a" stroke-width="1.2" fill="none"/>
<path d="M137.6 440.8H140.9" stroke="#3a3a3a" stroke-width="1.1"/>
<text x="134.2" y="443.8" font-size="8.2" text-anchor="end" fill="#383838" font-weight="normal" stroke="#404040" stroke-width="0.1">2.0</text>
<path d="M137.6 464.3H140.9" stroke="#3a3a3a" stroke-width="1.1"/>
<text x="134.2" y="467.3" font-size="8.2" text-anchor="end" fill="#383838" font-weight="normal" stroke="#404040" stroke-width="0.1">1.5</text>
<path d="M137.6 487.1H140.9" stroke="#3a3a3a" stroke-width="1.1"/>
<text x="134.2" y="490.1" font-size="8.2" text-anchor="end" fill="#383838" font-weight="normal" stroke="#404040" stroke-width="0.1">1.0</text>
<path d="M137.6 510.2H140.9" stroke="#3a3a3a" stroke-width="1.1"/>
<text x="134.2" y="513.2" font-size="8.2" text-anchor="end" fill="#383838" font-weight="normal" stroke="#404040" stroke-width="0.1">0.5</text>
<path d="M137.6 533.3H140.9" stroke="#3a3a3a" stroke-width="1.1"/>
<text x="134.2" y="536.3" font-size="8.2" text-anchor="end" fill="#383838" font-weight="normal" stroke="#404040" stroke-width="0.1">0.0</text>
<path d="M158.2 533.3V536.1" stroke="#3a3a3a" stroke-width="1"/>
<path d="M184.5 533.3V536.1" stroke="#3a3a3a" stroke-width="1"/>
<path d="M157.7 457.1V454.6H185.6V457.1" stroke="#222" stroke-width="1.1" fill="none"/>
<text x="171.6" y="455.3" font-size="10.5" text-anchor="middle" fill="#222" font-weight="normal" >*</text>
<text transform="translate(115.4,485.2) rotate(-90)" font-size="10" text-anchor="middle" fill="#383838" stroke="#383838" stroke-width="0.12" textLength="52.7" lengthAdjust="spacingAndGlyphs">DBILC (mg/dL)</text>
<rect x="431.2" y="293.5" width="7.2" height="7.2" fill="#c8102e"/>
<text x="442.5" y="299.4" font-size="6.5" text-anchor="start" fill="#333" font-weight="normal" >Ctrl</text>
<rect x="460.8" y="293.5" width="7.2" height="7.2" fill="#154c88"/>
<text x="471.5" y="299.4" font-size="6.5" text-anchor="start" fill="#333" font-weight="normal" >IRD (Intestine)</text>
<rect x="436.5" y="352.4" width="19.4" height="37.3" fill="#c8102e"/>
<rect x="458.7" y="377.5" width="19.4" height="12.2" fill="#154c88"/>
<rect x="444.1" y="323.5" width="3.3" height="3.3" fill="#111"/>
<circle cx="445.7" cy="344.1" r="1.75" fill="#111"/>
<rect x="438.1" y="362.4" width="3.3" height="3.3" fill="#111"/>
<rect x="444.1" y="362.4" width="3.3" height="3.3" fill="#111"/>
<rect x="450.5" y="362.4" width="3.3" height="3.3" fill="#111"/>
<path d="M468.0 362.3L469.9 365.7L466.1 365.7Z" fill="#111"/>
<path d="M462.0 375.8L463.9 379.2L460.1 379.2Z" fill="#111"/>
<path d="M468.0 375.8L469.9 379.2L466.1 379.2Z" fill="#111"/>
<path d="M474.0 375.8L475.9 379.2L472.1 379.2Z" fill="#111"/>
<path d="M468.0 387.5L470.2 389.7L468.0 391.9L465.8 389.7Z" fill="#111"/>
<path d="M445.7 344.1V357.1M440.2 344.1H451.2M440.2 357.1H451.2" stroke="#111" stroke-width="1.2" fill="none"/>
<path d="M468.0 372.3V383.0M463.0 372.3H473.0M463.0 383.0H473.0" stroke="#111" stroke-width="1.2" fill="none"/>
<path d="M431.3 309.0V389.7H482.1" stroke="#3a3a3a" stroke-width="1.2" fill="none"/>
<path d="M428.0 312.5H431.3" stroke="#3a3a3a" stroke-width="1.1"/>
<text x="424.6" y="315.5" font-size="8.2" text-anchor="end" fill="#383838" font-weight="normal" stroke="#404040" stroke-width="0.1">1.5</text>
<path d="M428.0 338.1H431.3" stroke="#3a3a3a" stroke-width="1.1"/>
<text x="424.6" y="341.1" font-size="8.2" text-anchor="end" fill="#383838" font-weight="normal" stroke="#404040" stroke-width="0.1">1.0</text>
<path d="M428.0 363.7H431.3" stroke="#3a3a3a" stroke-width="1.1"/>
<text x="424.6" y="366.7" font-size="8.2" text-anchor="end" fill="#383838" font-weight="normal" stroke="#404040" stroke-width="0.1">0.5</text>
<path d="M428.0 389.7H431.3" stroke="#3a3a3a" stroke-width="1.1"/>
<text x="424.6" y="392.7" font-size="8.2" text-anchor="end" fill="#383838" font-weight="normal" stroke="#404040" stroke-width="0.1">0.0</text>
<path d="M446.2 389.7V392.5" stroke="#3a3a3a" stroke-width="1"/>
<path d="M468.4 389.7V392.5" stroke="#3a3a3a" stroke-width="1"/>
<path d="M445.7 319.3V316.8H469.8V319.3" stroke="#222" stroke-width="1.1" fill="none"/>
<text x="457.8" y="317.5" font-size="10.5" text-anchor="middle" fill="#222" font-weight="normal" >*</text>
<text transform="translate(408.8,348.9) rotate(-90)" font-size="10.6" text-anchor="middle" fill="#383838" stroke="#383838" stroke-width="0.12" textLength="71.8" lengthAdjust="spacingAndGlyphs">Inflammation score</text>
<rect x="436.5" y="448.1" width="19.7" height="38.8" fill="#c8102e"/>
<rect x="458.5" y="429.8" width="19.8" height="57.1" fill="#154c88"/>
<rect x="440.7" y="441.1" width="3.3" height="3.3" fill="#111"/>
<rect x="447.8" y="441.1" width="3.3" height="3.3" fill="#111"/>
<circle cx="440.5" cy="448.5" r="1.75" fill="#111"/>
<circle cx="452.0" cy="448.5" r="1.75" fill="#111"/>
<circle cx="445.7" cy="452.0" r="1.75" fill="#111"/>
<circle cx="451.0" cy="452.5" r="1.75" fill="#111"/>
<path d="M461.0 427.6L462.9 431.0L459.1 431.0Z" fill="#111"/>
<path d="M465.5 427.6L467.4 431.0L463.6 431.0Z" fill="#111"/>
<path d="M470.0 427.6L471.9 431.0L468.1 431.0Z" fill="#111"/>
<path d="M474.5 427.6L476.4 431.0L472.6 431.0Z" fill="#111"/>
<path d="M446.3 445.0V451.0M440.8 445.0H451.8M440.8 451.0H451.8" stroke="#111" stroke-width="1.2" fill="none"/>
<path d="M468.4 428.5V431.0M463.4 428.5H473.4M463.4 431.0H473.4" stroke="#111" stroke-width="1.2" fill="none"/>
<path d="M430.8 405.2V486.9H482.3" stroke="#3a3a3a" stroke-width="1.2" fill="none"/>
<path d="M427.5 408.7H430.8" stroke="#3a3a3a" stroke-width="1.1"/>
<text x="424.1" y="411.7" font-size="8.2" text-anchor="end" fill="#383838" font-weight="normal" stroke="#404040" stroke-width="0.1">80</text>
<path d="M427.5 428.5H430.8" stroke="#3a3a3a" stroke-width="1.1"/>
<text x="424.1" y="431.5" font-size="8.2" text-anchor="end" fill="#383838" font-weight="normal" stroke="#404040" stroke-width="0.1">60</text>
<path d="M427.5 448.1H430.8" stroke="#3a3a3a" stroke-width="1.1"/>
<text x="424.1" y="451.1" font-size="8.2" text-anchor="end" fill="#383838" font-weight="normal" stroke="#404040" stroke-width="0.1">40</text>
<path d="M427.5 467.7H430.8" stroke="#3a3a3a" stroke-width="1.1"/>
<text x="424.1" y="470.7" font-size="8.2" text-anchor="end" fill="#383838" font-weight="normal" stroke="#404040" stroke-width="0.1">20</text>
<path d="M427.5 486.9H430.8" stroke="#3a3a3a" stroke-width="1.1"/>
<text x="424.1" y="489.9" font-size="8.2" text-anchor="end" fill="#383838" font-weight="normal" stroke="#404040" stroke-width="0.1">0</text>
<path d="M446.4 486.9V489.7" stroke="#3a3a3a" stroke-width="1"/>
<path d="M468.4 486.9V489.7" stroke="#3a3a3a" stroke-width="1"/>
<path d="M446.2 421.7V419.2H470.0V421.7" stroke="#222" stroke-width="1.1" fill="none"/>
<text x="458.1" y="419.9" font-size="10.5" text-anchor="middle" fill="#222" font-weight="normal" >***</text>
<text transform="translate(397.5,446.2) rotate(-90)" font-size="10.6" text-anchor="middle" fill="#383838" stroke="#383838" stroke-width="0.12" textLength="36.5" lengthAdjust="spacingAndGlyphs">Claudin 3</text>
<text transform="translate(408.8,445.7) rotate(-90)" font-size="10" text-anchor="middle" fill="#383838" stroke="#383838" stroke-width="0.12" textLength="62.5" lengthAdjust="spacingAndGlyphs">(% positive area)</text>
<rect x="436.5" y="566.9" width="19.7" height="21.2" fill="#c8102e"/>
<rect x="458.5" y="537.5" width="19.8" height="50.6" fill="#154c88"/>
<rect x="444.6" y="558.0" width="3.3" height="3.3" fill="#111"/>
<rect x="439.7" y="563.8" width="3.3" height="3.3" fill="#111"/>
<rect x="444.6" y="563.8" width="3.3" height="3.3" fill="#111"/>
<rect x="449.5" y="563.8" width="3.3" height="3.3" fill="#111"/>
<rect x="444.6" y="576.2" width="3.3" height="3.3" fill="#111"/>
<path d="M468.1 516.6L470.0 520.0L466.2 520.0Z" fill="#111"/>
<path d="M468.1 523.7L470.0 527.1L466.2 527.1Z" fill="#111"/>
<circle cx="468.1" cy="539.4" r="1.75" fill="#111"/>
<path d="M465.4 548.7L467.3 552.1L463.5 552.1Z" fill="#111"/>
<path d="M471.5 548.7L473.4 552.1L469.6 552.1Z" fill="#111"/>
<path d="M446.3 563.5V570.0M440.8 563.5H451.8M440.8 570.0H451.8" stroke="#111" stroke-width="1.2" fill="none"/>
<path d="M468.1 530.4V543.3M463.1 530.4H473.1M463.1 543.3H473.1" stroke="#111" stroke-width="1.2" fill="none"/>
<path d="M431.2 506.5V588.1H482.3" stroke="#3a3a3a" stroke-width="1.2" fill="none"/>
<path d="M427.9 510.0H431.2" stroke="#3a3a3a" stroke-width="1.1"/>
<text x="424.5" y="513.0" font-size="8.2" text-anchor="end" fill="#383838" font-weight="normal" stroke="#404040" stroke-width="0.1">30</text>
<path d="M427.9 536.5H431.2" stroke="#3a3a3a" stroke-width="1.1"/>
<text x="424.5" y="539.5" font-size="8.2" text-anchor="end" fill="#383838" font-weight="normal" stroke="#404040" stroke-width="0.1">20</text>
<path d="M427.9 562.5H431.2" stroke="#3a3a3a" stroke-width="1.1"/>
<text x="424.5" y="565.5" font-size="8.2" text-anchor="end" fill="#383838" font-weight="normal" stroke="#404040" stroke-width="0.1">10</text>
<path d="M427.9 588.1H431.2" stroke="#3a3a3a" stroke-width="1.1"/>
<text x="424.5" y="591.1" font-size="8.2" text-anchor="end" fill="#383838" font-weight="normal" stroke="#404040" stroke-width="0.1">0</text>
<path d="M446.4 588.1V590.9" stroke="#3a3a3a" stroke-width="1"/>
<path d="M468.4 588.1V590.9" stroke="#3a3a3a" stroke-width="1"/>
<path d="M446.2 511.7V509.2H469.6V511.7" stroke="#222" stroke-width="1.1" fill="none"/>
<text x="457.9" y="509.9" font-size="10.5" text-anchor="middle" fill="#222" font-weight="normal" >**</text>
<text transform="translate(397.5,547.2) rotate(-90)" font-size="10.6" text-anchor="middle" fill="#383838" stroke="#383838" stroke-width="0.12" textLength="23.1" lengthAdjust="spacingAndGlyphs">JAM-A</text>
<text transform="translate(408.8,547.1) rotate(-90)" font-size="10" text-anchor="middle" fill="#383838" stroke="#383838" stroke-width="0.12" textLength="61.6" lengthAdjust="spacingAndGlyphs">(% positive area)</text>
<rect x="36.5" y="565.8" width="7.2" height="7.2" fill="#c8102e"/>
<text x="47.3" y="571.7" font-size="6.5" text-anchor="start" fill="#333" font-weight="normal" >Ctrl</text>
<rect x="66.5" y="565.8" width="7.2" height="7.2" fill="#154c88"/>
<text x="76.8" y="571.7" font-size="6.5" text-anchor="start" fill="#333" font-weight="normal" >IRD (Serum)</text>
<rect x="41.0" y="629.3" width="22.8" height="42.2" fill="#c8102e"/>
<rect x="66.2" y="660.5" width="23.2" height="11.0" fill="#154c88"/>
<rect x="51.2" y="602.6" width="3.3" height="3.3" fill="#111"/>
<rect x="51.2" y="611.8" width="3.3" height="3.3" fill="#111"/>
<rect x="51.2" y="618.1" width="3.3" height="3.3" fill="#111"/>
<circle cx="52.9" cy="628.3" r="1.75" fill="#111"/>
<rect x="51.2" y="637.0" width="3.3" height="3.3" fill="#111"/>
<circle cx="49.2" cy="647.2" r="1.75" fill="#111"/>
<circle cx="56.5" cy="647.2" r="1.75" fill="#111"/>
<path d="M78.1 648.2L80.0 651.6L76.2 651.6Z" fill="#111"/>
<path d="M78.1 652.8L80.0 656.2L76.2 656.2Z" fill="#111"/>
<path d="M74.0 659.3L75.9 662.7L72.1 662.7Z" fill="#111"/>
<path d="M78.0 659.3L79.9 662.7L76.1 662.7Z" fill="#111"/>
<path d="M82.0 659.3L83.9 662.7L80.1 662.7Z" fill="#111"/>
<circle cx="78.0" cy="668.0" r="1.75" fill="#111"/>
<path d="M52.9 622.1V634.9M46.9 622.1H58.9M46.9 634.9H58.9" stroke="#111" stroke-width="1.2" fill="none"/>
<path d="M78.1 657.2V666.0M72.6 657.2H83.6M72.6 666.0H83.6" stroke="#111" stroke-width="1.2" fill="none"/>
<path d="M40.6 660.5H94.9" stroke="#154c88" stroke-width="1" stroke-dasharray="1.6 1.6" fill="none"/>
<path d="M36.1 580.6V671.5H93.4" stroke="#3a3a3a" stroke-width="1.2" fill="none"/>
<path d="M32.8 584.1H36.1" stroke="#3a3a3a" stroke-width="1.1"/>
<text x="29.4" y="587.1" font-size="8.2" text-anchor="end" fill="#383838" font-weight="normal" stroke="#404040" stroke-width="0.1">4</text>
<path d="M32.8 606.1H36.1" stroke="#3a3a3a" stroke-width="1.1"/>
<text x="29.4" y="609.1" font-size="8.2" text-anchor="end" fill="#383838" font-weight="normal" stroke="#404040" stroke-width="0.1">3</text>
<path d="M32.8 628.0H36.1" stroke="#3a3a3a" stroke-width="1.1"/>
<text x="29.4" y="631.0" font-size="8.2" text-anchor="end" fill="#383838" font-weight="normal" stroke="#404040" stroke-width="0.1">2</text>
<path d="M32.8 649.9H36.1" stroke="#3a3a3a" stroke-width="1.1"/>
<text x="29.4" y="652.9" font-size="8.2" text-anchor="end" fill="#383838" font-weight="normal" stroke="#404040" stroke-width="0.1">1</text>
<path d="M32.8 671.5H36.1" stroke="#3a3a3a" stroke-width="1.1"/>
<text x="29.4" y="674.5" font-size="8.2" text-anchor="end" fill="#383838" font-weight="normal" stroke="#404040" stroke-width="0.1">0</text>
<path d="M52.4 671.5V674.3" stroke="#3a3a3a" stroke-width="1"/>
<path d="M77.8 671.5V674.3" stroke="#3a3a3a" stroke-width="1"/>
<path d="M52.9 595.2V592.7H78.1V595.2" stroke="#222" stroke-width="1.1" fill="none"/>
<text x="65.5" y="593.4" font-size="10.5" text-anchor="middle" fill="#222" font-weight="normal" >***</text>
<text transform="translate(18.5,625.7) rotate(-90)" font-size="10" text-anchor="middle" fill="#383838" stroke="#383838" stroke-width="0.12" textLength="77.6" lengthAdjust="spacingAndGlyphs">FITC-dextran (µg/mL)</text>
<rect x="173.8" y="556.3" width="7.2" height="7.2" fill="#c8102e"/>
<text x="185.5" y="562.2" font-size="6.5" text-anchor="start" fill="#333" font-weight="normal" >Ctrl</text>
<rect x="204.5" y="556.3" width="7.2" height="7.2" fill="#154c88"/>
<text x="215.5" y="562.2" font-size="6.5" text-anchor="start" fill="#333" font-weight="normal" >IRD</text>
<text x="174.5" y="572.0" font-size="6.5" text-anchor="start" fill="#383838" font-weight="normal" >(Fecal samples)</text>
<rect x="179.8" y="639.6" width="22.2" height="32.0" fill="#c8102e"/>
<rect x="204.2" y="666.1" width="22.5" height="5.5" fill="#154c88"/>
<rect x="189.2" y="604.8" width="3.3" height="3.3" fill="#111"/>
<circle cx="190.9" cy="638.7" r="1.75" fill="#111"/>
<rect x="189.2" y="648.1" width="3.3" height="3.3" fill="#111"/>
<rect x="189.2" y="658.5" width="3.3" height="3.3" fill="#111"/>
<path d="M211.7 661.3L213.6 664.7L209.8 664.7Z" fill="#111"/>
<path d="M215.7 661.8L217.6 665.2L213.8 665.2Z" fill="#111"/>
<path d="M190.9 627.0V649.0M184.9 627.0H196.9M184.9 649.0H196.9" stroke="#111" stroke-width="1.2" fill="none"/>
<path d="M215.5 664.6V669.0M210.0 664.6H221.0M210.0 669.0H221.0" stroke="#111" stroke-width="1.2" fill="none"/>
<path d="M174.1 649.7H233.4" stroke="#222" stroke-width="1" stroke-dasharray="1.6 1.6" fill="none"/>
<path d="M174.1 581.5V671.6H230.7" stroke="#3a3a3a" stroke-width="1.2" fill="none"/>
<path d="M170.8 585.0H174.1" stroke="#3a3a3a" stroke-width="1.1"/>
<text x="167.4" y="588.0" font-size="8.2" text-anchor="end" fill="#383838" font-weight="normal" stroke="#404040" stroke-width="0.1">8×10<tspan font-size="5" dy="-3">8</tspan></text>
<path d="M170.8 606.4H174.1" stroke="#3a3a3a" stroke-width="1.1"/>
<text x="167.4" y="609.4" font-size="8.2" text-anchor="end" fill="#383838" font-weight="normal" stroke="#404040" stroke-width="0.1">6×10<tspan font-size="5" dy="-3">8</tspan></text>
<path d="M170.8 628.1H174.1" stroke="#3a3a3a" stroke-width="1.1"/>
<text x="167.4" y="631.1" font-size="8.2" text-anchor="end" fill="#383838" font-weight="normal" stroke="#404040" stroke-width="0.1">4×10<tspan font-size="5" dy="-3">8</tspan></text>
<path d="M170.8 649.7H174.1" stroke="#3a3a3a" stroke-width="1.1"/>
<text x="167.4" y="652.7" font-size="8.2" text-anchor="end" fill="#383838" font-weight="normal" stroke="#404040" stroke-width="0.1">2×10<tspan font-size="5" dy="-3">8</tspan></text>
<path d="M170.8 671.6H174.1" stroke="#3a3a3a" stroke-width="1.1"/>
<text x="167.4" y="674.6" font-size="8.2" text-anchor="end" fill="#383838" font-weight="normal" stroke="#404040" stroke-width="0.1">0</text>
<path d="M190.9 671.6V674.4" stroke="#3a3a3a" stroke-width="1"/>
<path d="M215.4 671.6V674.4" stroke="#3a3a3a" stroke-width="1"/>
<path d="M190.9 595.6V593.1H217.4V595.6" stroke="#222" stroke-width="1.1" fill="none"/>
<text x="204.2" y="593.8" font-size="10.5" text-anchor="middle" fill="#222" font-weight="normal" >*</text>
<text transform="translate(138.9,627.7) rotate(-90)" font-size="10.6" text-anchor="middle" fill="#383838" stroke="#383838" stroke-width="0.12" textLength="67.9" lengthAdjust="spacingAndGlyphs">Pan-bac copies/mg</text>
<rect x="36.5" y="697.3" width="7.2" height="7.2" fill="#c8102e"/>
<text x="47.3" y="703.2" font-size="6.5" text-anchor="start" fill="#333" font-weight="normal" >Ctrl</text>
<rect x="66.5" y="697.3" width="7.2" height="7.2" fill="#154c88"/>
<text x="77.3" y="703.2" font-size="6.5" text-anchor="start" fill="#333" font-weight="normal" >IRD</text>
<text x="36.5" y="712.3" font-size="6.5" text-anchor="start" fill="#383838" font-weight="normal" >(Fecal samples)</text>
<rect x="41.3" y="797.7" width="22.5" height="14.4" fill="#c8102e"/>
<rect x="66.9" y="760.2" width="21.9" height="51.9" fill="#154c88"/>
<rect x="47.4" y="792.1" width="3.3" height="3.3" fill="#111"/>
<rect x="54.1" y="790.6" width="3.3" height="3.3" fill="#111"/>
<circle cx="52.3" cy="798.7" r="1.75" fill="#111"/>
<rect x="50.6" y="802.1" width="3.3" height="3.3" fill="#111"/>
<path d="M77.9 727.7L79.8 731.1L76.0 731.1Z" fill="#111"/>
<path d="M77.9 737.3L79.8 740.7L76.0 740.7Z" fill="#111"/>
<rect x="72.3" y="767.6" width="3.3" height="3.3" fill="#111"/>
<rect x="80.0" y="769.6" width="3.3" height="3.3" fill="#111"/>
<path d="M77.9 786.8L79.8 790.2L76.0 790.2Z" fill="#111"/>
<path d="M52.5 794.5V801.0M47.0 794.5H58.0M47.0 801.0H58.0" stroke="#111" stroke-width="1.2" fill="none"/>
<path d="M77.9 748.7V769.8M72.6 748.7H83.2M72.6 769.8H83.2" stroke="#111" stroke-width="1.2" fill="none"/>
<path d="M36.5 782.3H95.8" stroke="#222" stroke-width="1" stroke-dasharray="1.6 1.6" fill="none"/>
<path d="M36.5 720.7V812.1H92.8" stroke="#3a3a3a" stroke-width="1.2" fill="none"/>
<path d="M33.2 724.2H36.5" stroke="#3a3a3a" stroke-width="1.1"/>
<text x="29.8" y="727.2" font-size="8.2" text-anchor="end" fill="#383838" font-weight="normal" stroke="#404040" stroke-width="0.1">2.5</text>
<path d="M33.2 742.3H36.5" stroke="#3a3a3a" stroke-width="1.1"/>
<text x="29.8" y="745.3" font-size="8.2" text-anchor="end" fill="#383838" font-weight="normal" stroke="#404040" stroke-width="0.1">2.0</text>
<path d="M33.2 760.2H36.5" stroke="#3a3a3a" stroke-width="1.1"/>
<text x="29.8" y="763.2" font-size="8.2" text-anchor="end" fill="#383838" font-weight="normal" stroke="#404040" stroke-width="0.1">1.5</text>
<path d="M33.2 777.5H36.5" stroke="#3a3a3a" stroke-width="1.1"/>
<text x="29.8" y="780.5" font-size="8.2" text-anchor="end" fill="#383838" font-weight="normal" stroke="#404040" stroke-width="0.1">1.0</text>
<path d="M33.2 795.4H36.5" stroke="#3a3a3a" stroke-width="1.1"/>
<text x="29.8" y="798.4" font-size="8.2" text-anchor="end" fill="#383838" font-weight="normal" stroke="#404040" stroke-width="0.1">0.5</text>
<path d="M33.2 812.1H36.5" stroke="#3a3a3a" stroke-width="1.1"/>
<text x="29.8" y="815.1" font-size="8.2" text-anchor="end" fill="#383838" font-weight="normal" stroke="#404040" stroke-width="0.1">0.0</text>
<path d="M52.5 812.1V814.9" stroke="#3a3a3a" stroke-width="1"/>
<path d="M77.8 812.1V814.9" stroke="#3a3a3a" stroke-width="1"/>
<path d="M55.8 725.6V723.1H78.8V725.6" stroke="#222" stroke-width="1.1" fill="none"/>
<text x="67.3" y="723.8" font-size="10.5" text-anchor="middle" fill="#222" font-weight="normal" >*</text>
<text transform="translate(11.2,767.6) rotate(-90)" font-size="10.6" text-anchor="middle" fill="#383838" stroke="#383838" stroke-width="0.12" textLength="89.8" lengthAdjust="spacingAndGlyphs">Firmicutes/bacteroidetes</text>
<rect x="173.8" y="697.5" width="7.2" height="7.2" fill="#c8102e"/>
<text x="185.5" y="703.4" font-size="6.5" text-anchor="start" fill="#333" font-weight="normal" >Ctrl</text>
<rect x="204.5" y="697.5" width="7.2" height="7.2" fill="#154c88"/>
<text x="215.5" y="703.4" font-size="6.5" text-anchor="start" fill="#333" font-weight="normal" >IRD</text>
<text x="188.8" y="713.8" font-size="6.5" text-anchor="start" fill="#383838" font-weight="normal" >(Serum)</text>
<rect x="179.6" y="763.7" width="22.3" height="48.0" fill="#c8102e"/>
<rect x="204.6" y="780.0" width="22.3" height="31.7" fill="#154c88"/>
<rect x="189.2" y="742.1" width="3.3" height="3.3" fill="#111"/>
<circle cx="184.0" cy="764.0" r="1.75" fill="#111"/>
<circle cx="190.8" cy="764.5" r="1.75" fill="#111"/>
<circle cx="197.5" cy="767.9" r="1.75" fill="#111"/>
<rect x="182.3" y="769.6" width="3.3" height="3.3" fill="#111"/>
<path d="M215.8 766.2L217.7 769.6L213.9 769.6Z" fill="#111"/>
<path d="M211.9 771.4L213.8 774.8L210.0 774.8Z" fill="#111"/>
<path d="M219.6 771.4L221.5 774.8L217.7 774.8Z" fill="#111"/>
<path d="M215.8 784.8L217.7 788.2L213.9 788.2Z" fill="#111"/>
<path d="M215.8 791.2L217.7 794.6L213.9 794.6Z" fill="#111"/>
<path d="M190.8 757.7V768.8M184.8 757.7H196.8M184.8 768.8H196.8" stroke="#111" stroke-width="1.2" fill="none"/>
<path d="M215.8 774.6V785.0M210.3 774.6H221.3M210.3 785.0H221.3" stroke="#111" stroke-width="1.2" fill="none"/>
<path d="M177.3 781.9H233.5" stroke="#154c88" stroke-width="1" stroke-dasharray="1.6 1.6" fill="none"/>
<path d="M174.4 721.5V811.7H230.9" stroke="#3a3a3a" stroke-width="1.2" fill="none"/>
<path d="M171.1 725.0H174.4" stroke="#3a3a3a" stroke-width="1.1"/>
<text x="167.7" y="728.0" font-size="8.2" text-anchor="end" fill="#383838" font-weight="normal" stroke="#404040" stroke-width="0.1">0.8</text>
<path d="M171.1 746.7H174.4" stroke="#3a3a3a" stroke-width="1.1"/>
<text x="167.7" y="749.7" font-size="8.2" text-anchor="end" fill="#383838" font-weight="normal" stroke="#404040" stroke-width="0.1">0.6</text>
<path d="M171.1 768.5H174.4" stroke="#3a3a3a" stroke-width="1.1"/>
<text x="167.7" y="771.5" font-size="8.2" text-anchor="end" fill="#383838" font-weight="normal" stroke="#404040" stroke-width="0.1">0.4</text>
<path d="M171.1 790.0H174.4" stroke="#3a3a3a" stroke-width="1.1"/>
<text x="167.7" y="793.0" font-size="8.2" text-anchor="end" fill="#383838" font-weight="normal" stroke="#404040" stroke-width="0.1">0.2</text>
<path d="M171.1 811.7H174.4" stroke="#3a3a3a" stroke-width="1.1"/>
<text x="167.7" y="814.7" font-size="8.2" text-anchor="end" fill="#383838" font-weight="normal" stroke="#404040" stroke-width="0.1">0.0</text>
<path d="M190.8 811.7V814.5" stroke="#3a3a3a" stroke-width="1"/>
<path d="M215.8 811.7V814.5" stroke="#3a3a3a" stroke-width="1"/>
<path d="M191.2 730.4V727.9H217.3V730.4" stroke="#222" stroke-width="1.1" fill="none"/>
<text x="204.2" y="728.6" font-size="10.5" text-anchor="middle" fill="#222" font-weight="normal" >*</text>
<text transform="translate(149.8,767.9) rotate(-90)" font-size="10" text-anchor="middle" fill="#383838" stroke="#383838" stroke-width="0.12" textLength="92.3" lengthAdjust="spacingAndGlyphs">TLR2 activity (O.D. 650nm)</text>
<g clip-path="url(#cl_l1)"><g filter="url(#blur1)">
<path d="M213.0 47.5L216.0 42.0L221.0 37.0L228.0 33.5L234.0 31.0L236.0 27.5L242.0 23.0L250.0 20.0L258.0 18.8L267.0 18.6L276.0 19.8L285.0 22.5L292.0 26.5L297.0 30.0L305.0 31.0L315.0 31.5L326.0 31.5L334.0 32.5L340.0 34.5L338.0 38.0L330.0 45.0L320.0 52.0L310.0 59.0L300.0 65.0L292.0 68.5L282.0 71.0L270.0 72.5L258.0 71.0L247.0 67.5L236.0 63.0L226.0 58.5L218.0 54.0L214.0 50.0Z" fill="#e0a0be"/>
<rect x="210" y="15" width="135" height="61" filter="url(#spW)" opacity="0.65"/>
<rect x="210" y="15" width="135" height="61" filter="url(#spP2)" opacity="0.2"/>
<path d="M240 30.5 C250 28.5 262 29 275 31 C285 33 293 35 302 37.5 L306 39 C296 38.5 285 36.5 274 34.5 C262 32.5 250 31.5 240 30.5Z" fill="#fbf4f7"/>
<ellipse cx="268" cy="40" rx="5.5" ry="3" fill="#fdf8fa"/>
<ellipse cx="300" cy="44" rx="2" ry="1.5" fill="#fdf8fa"/>
<ellipse cx="323" cy="39" rx="2" ry="1.5" fill="#fdf8fa"/>
</g></g>
<rect x="252" y="51" width="12.5" height="11" fill="#b56a95" stroke="#3a2030" stroke-width="1"/>
<path d="M221.1 32.0L223.7 33.0" stroke="#111" stroke-width="1.6"/>
<path d="M226.7 34.1L222.9 35.2L224.5 30.8Z" fill="#111"/>
<path d="M256.0 20.0L258.6 21.0" stroke="#111" stroke-width="1.6"/>
<path d="M261.6 22.1L257.8 23.2L259.4 18.8Z" fill="#111"/>
<path d="M264.4 19.5L266.8 20.9" stroke="#111" stroke-width="1.6"/>
<path d="M269.6 22.5L265.6 22.9L267.9 18.9Z" fill="#111"/>
<path d="M292.5 24.2L293.0 26.9" stroke="#111" stroke-width="1.6"/>
<path d="M293.6 30.1L290.7 27.3L295.3 26.5Z" fill="#111"/>
<path d="M270.1 31.1L272.5 32.5" stroke="#111" stroke-width="1.6"/>
<path d="M275.3 34.1L271.3 34.5L273.6 30.5Z" fill="#111"/>
<path d="M282.2 30.4L284.2 32.4" stroke="#111" stroke-width="1.6"/>
<path d="M286.4 34.6L282.5 34.0L285.8 30.7Z" fill="#111"/>
<path d="M292.5 30.1L293.0 32.8" stroke="#111" stroke-width="1.6"/>
<path d="M293.6 36.0L290.7 33.2L295.3 32.4Z" fill="#111"/>
<path d="M258.0 43.8L260.7 44.3" stroke="#111" stroke-width="1.6"/>
<path d="M263.9 44.9L260.3 46.6L261.1 42.0Z" fill="#111"/>
<path d="M248.6 46.4L251.2 47.4" stroke="#111" stroke-width="1.6"/>
<path d="M254.2 48.5L250.4 49.6L252.0 45.2Z" fill="#111"/>
<path d="M293.7 40.5L292.3 42.9" stroke="#111" stroke-width="1.6"/>
<path d="M290.7 45.7L290.3 41.7L294.3 44.0Z" fill="#111"/>
<path d="M291.1 47.0L288.4 47.5" stroke="#111" stroke-width="1.6"/>
<path d="M285.2 48.1L288.0 45.2L288.8 49.8Z" fill="#111"/>
<path d="M275.1 55.2L275.1 52.4" stroke="#111" stroke-width="1.6"/>
<path d="M275.1 49.2L277.4 52.4L272.8 52.4Z" fill="#111"/>
<path d="M249.6 53.4L252.3 53.9" stroke="#111" stroke-width="1.6"/>
<path d="M255.5 54.5L251.9 56.2L252.7 51.6Z" fill="#111"/>
<path d="M296.5 54.0L293.7 54.0" stroke="#111" stroke-width="1.6"/>
<path d="M290.5 54.0L293.7 51.7L293.7 56.3Z" fill="#111"/>
<path d="M297.4 58.6L294.7 59.1" stroke="#111" stroke-width="1.6"/>
<path d="M291.5 59.7L294.3 56.8L295.1 61.4Z" fill="#111"/>
<path d="M278.3 65.2L278.3 62.4" stroke="#111" stroke-width="1.6"/>
<path d="M278.3 59.2L280.6 62.4L276.0 62.4Z" fill="#111"/>
<path d="M254.2 69.4L256.6 68.0" stroke="#111" stroke-width="1.6"/>
<path d="M259.4 66.4L257.7 70.0L255.4 66.0Z" fill="#111"/>
<path d="M273.6 72.0L275.7 70.2" stroke="#111" stroke-width="1.6"/>
<path d="M278.2 68.1L277.2 71.9L274.3 68.4Z" fill="#111"/>
<path d="M328.6 35.2L331.0 36.6" stroke="#111" stroke-width="1.6"/>
<path d="M333.8 38.2L329.8 38.6L332.1 34.6Z" fill="#111"/>
<path d="M303.3 22.1H312.7" stroke="#111" stroke-width="1.6"/>
<path d="M264.5 51L342.7 11.7" stroke="#333" stroke-width="1.1" stroke-dasharray="4.5 3.5"/>
<path d="M264.5 62L342.7 77.3" stroke="#333" stroke-width="1.1" stroke-dasharray="4.5 3.5"/>
<g clip-path="url(#cl_l2)"><g filter="url(#blur1)">
<path d="M224.5 138.5L228.0 130.0L232.5 123.0L237.0 115.0L240.5 108.0L242.5 100.0L245.0 93.5L250.0 89.5L257.0 87.5L265.0 87.0L273.0 88.0L281.0 91.0L287.0 94.5L295.0 96.0L303.0 98.0L309.0 102.0L314.2 109.4L319.0 114.5L323.8 119.0L325.8 114.5L328.2 110.9L330.0 111.5L333.0 113.5L335.4 116.2L336.0 120.0L335.9 122.9L333.5 127.7L326.7 132.5L319.0 135.4L309.4 137.3L303.0 137.5L293.0 138.5L284.0 141.0L279.0 142.5L275.0 140.0L270.0 142.5L262.0 142.0L253.0 141.5L243.0 140.5L233.0 139.5Z" fill="#e8b6ca"/>
<rect x="220" y="84" width="118" height="62" filter="url(#spW)" opacity="0.75"/>
<rect x="220" y="84" width="118" height="62" filter="url(#spP2)" opacity="0.18"/>
<path d="M320 118 L324 121 L327 113 L331 112.5 L335.5 117 L335.5 124 L332 129 L325 133 L318 134 L314 128 Z" fill="#dc98b4" opacity="0.6"/>
<ellipse cx="313" cy="121" rx="3" ry="2.5" fill="#d87498"/><ellipse cx="312.5" cy="124" rx="1.5" ry="1.3" fill="#fff"/>
<ellipse cx="263" cy="125" rx="3" ry="2.2" fill="#fdf8fa"/>
<ellipse cx="272" cy="121" rx="2.2" ry="2" fill="#fdf8fa"/>
</g></g>
<rect x="261.4" y="100.6" width="12.6" height="9.4" fill="none" stroke="#3a2030" stroke-width="0.9"/>
<path d="M276.3 97.5L275.1 99.0" stroke="#111" stroke-width="1.6"/>
<path d="M273.0 101.5L273.3 97.6L276.8 100.5Z" fill="#111"/>
<path d="M321.1 110.5L320.1 112.2" stroke="#111" stroke-width="1.6"/>
<path d="M318.5 115.0L318.1 111.1L322.1 113.4Z" fill="#111"/>
<path d="M323 90H332.3" stroke="#111" stroke-width="1.6"/>
<path d="M274 100.6L342.7 79.2" stroke="#333" stroke-width="1.1" stroke-dasharray="4.5 3.5"/>
<path d="M274 110L342.7 145" stroke="#333" stroke-width="1.1" stroke-dasharray="4.5 3.5"/>
<text x="375.2" y="7.7" font-size="9.3" text-anchor="middle" fill="#333">Ctrl</text>
<text x="376" y="155.4" font-size="9.3" text-anchor="middle" fill="#333">IRD</text>
<g clip-path="url(#cl_i1)"><g filter="url(#blur1)">
<rect x="343.3" y="11.8" width="65.3" height="65.6" fill="#d9869f"/>
<rect x="343" y="11" width="66" height="67" filter="url(#spW)" opacity="0.8"/>
<path d="M360 13 C366 15 372 12 378 14 C384 13 390 16 394 20 C396 24 393 28 397 33 C399 38 396 42 399 47 C401 52 397 56 395 60 C390 63 384 62 380 66 C375 69 370 71 366 73 C362 76 357 77 354 74 C351 70 353 64 351 59 C349 54 352 50 350 45 C348 40 351 36 349 31 C348 26 352 22 353 18 C355 15 357 13 360 13Z" fill="#9282b0"/>
<g clip-path="url(#cl_i1b)">
<rect x="343" y="11" width="66" height="67" filter="url(#spPk)" opacity="0.6"/>
<rect x="343" y="11" width="66" height="67" filter="url(#spW2)" opacity="0.3"/>
<rect x="343" y="11" width="66" height="67" filter="url(#spB)" opacity="0.5"/>
</g>
<path d="M358 48 C360 43 364 43 364 47 C364 52 361 56 358 55Z" fill="#fff" stroke="#d21a45" stroke-width="1.6"/>
<ellipse cx="386.4" cy="43.3" rx="3" ry="2.3" fill="#f4dde6" stroke="#d21a45" stroke-width="1.3"/>
<path d="M408.6 28 L401 36 L408.6 45Z" fill="#fff" stroke="#c41040" stroke-width="1.8"/>
<path d="M343.3 58 C348 64 352 70 356 77.4 L343.3 77.4Z" fill="#b84070" opacity="0.8"/>
<path d="M343.3 40 C346 48 348 56 346 62 L343.3 62Z" fill="#cf5a82" opacity="0.7"/>
</g></g>
<path d="M398.9 75.6H405.3" stroke="#111" stroke-width="1.5"/>
<g clip-path="url(#cl_i2)"><g filter="url(#blur1)">
<rect x="343.3" y="79" width="65.3" height="66.2" fill="#e9b9cb"/>
<rect x="343" y="78" width="66" height="68" filter="url(#spW)" opacity="0.95"/>
<rect x="343" y="78" width="66" height="68" filter="url(#spP2)" opacity="0.2"/>
<path d="M371 92 C377 96 383 104 386 112 C388 118 387 124 384 127 L378 118 L372 104 Z" fill="#7e74aa" opacity="0.85"/>
<path d="M357.7 84.5 L362.3 84.5 L364.5 93 L367 93 L366.9 84.5 L371.5 84.5 L371 95 L374 101.5 L380.8 113 L386.5 123.5 L387.7 131.5 L393 136 L398 138.5 L390 140.5 L380 138 L375 141 L370 143 L366 137 L362 134 L360 125 L358.8 112 L359.5 100 L361 95 Z" fill="#d42a52" stroke="#d42a52" stroke-width="0.6" stroke-linejoin="round"/>
<path d="M363.8 95 L368.8 95 L372 101.5 L379 113.5 L384.8 123.8 L385.8 130.5 L379 136.3 L369 137.5 L364 134 L361.3 124 L360.6 112 L361.3 101 Z" fill="#fff"/>
<path d="M362.3 86 L364.5 93" stroke="#fff" stroke-width="0.8"/>
</g></g>
<path d="M397.5 143.8H405.1" stroke="#111" stroke-width="1.5"/>
<text transform="translate(3.20,12.24) scale(1.13,1)" font-size="14.3" font-weight="bold" fill="#111">A</text>
<text transform="translate(212.60,11.94) scale(1.13,1)" font-size="14.3" font-weight="bold" fill="#111">B</text>
<text transform="translate(3.00,177.44) scale(1.13,1)" font-size="14.3" font-weight="bold" fill="#111">C</text>
<text transform="translate(212.80,178.04) scale(1.13,1)" font-size="14.3" font-weight="bold" fill="#111">D</text>
<text transform="translate(3.50,299.84) scale(1.13,1)" font-size="14.3" font-weight="bold" fill="#111">E</text>
<text transform="translate(247.30,299.84) scale(1.13,1)" font-size="14.3" font-weight="bold" fill="#111">F</text>
<text transform="translate(2.20,564.84) scale(1.13,1)" font-size="14.3" font-weight="bold" fill="#111">G</text>
<text transform="translate(130.20,564.54) scale(1.13,1)" font-size="14.3" font-weight="bold" fill="#111">H</text>
<text transform="translate(5.90,703.14) scale(1.13,1)" font-size="14.3" font-weight="bold" fill="#111">I</text>
<text transform="translate(130.60,704.24) scale(1.13,1)" font-size="14.3" font-weight="bold" fill="#111">J</text>
<text transform="translate(247.30,620.94) scale(1.13,1)" font-size="14.3" font-weight="bold" fill="#111">K</text>
<g clip-path="url(#cl_c1)"><g filter="url(#blur1)">
<rect x="16.5" y="181" width="85.5" height="87" fill="#d65a88"/>
<rect x="16" y="180" width="87" height="89" filter="url(#spW2)" opacity="0.4"/>
<rect x="16" y="180" width="87" height="89" filter="url(#spP2)" opacity="0.7"/>
<rect x="16" y="180" width="87" height="89" filter="url(#spP)" opacity="0.25"/>
<path d="M20.1 186.4 C25 184 38 184 46.5 185.4 C55 187 60 188 63.5 189.6 C70 193 75 195 78.3 197 C84 200 87 202 88.9 204.4 C93 209 95 212 95.2 215 C97 220 97 224 96.3 227.7 C95 232 93 236 91 238.3 C88 241 84 242 80.4 242.5 C73 244 68 244 63.5 243.6 C57 243 52 242 48.7 240.4 C43 237 39 235 36 232 C32 228 29 225 27.5 221.4 C24 217 22 213 21.2 208.7 C19.5 204 19 201 19 198 C19 193 19.5 189 20.1 186.4Z" fill="#b47aa8"/>
<g clip-path="url(#cl_c1i)">
<rect x="16" y="180" width="87" height="89" filter="url(#spBl)" opacity="0.35"/>
<rect x="16" y="180" width="87" height="89" filter="url(#spPk)" opacity="0.45"/>
<rect x="16" y="180" width="87" height="89" filter="url(#spW2)" opacity="0.3"/>
<rect x="16" y="180" width="87" height="89" filter="url(#spB)" opacity="0.5"/>
</g>
<path d="M60 181 L102 181 L102 203.8 C98 203.5 94 203.5 90.9 203.3 C88 202 86 201.5 84.4 200.6 C81 198.5 79 197.5 76.9 196.3 C74 194 71.5 192.5 69.4 191 C66 188.5 63 186.5 60.8 185 C59 183.5 57.5 182 55 181Z" fill="#fff"/>
<path d="M20 244.6 C24 243 28 242.5 31.7 242.5 C38 242.5 44 243 48.7 244.6 C54 246.5 58 248.5 61.3 251 C64.5 254 66.5 256.5 67.7 259.4 C69 262.5 69.5 265 69.8 268 L21.2 268 C19.5 263 18.8 259 19 255 C19 251 19.3 247.5 20 244.6Z" fill="#fff"/>
<path d="M45 191 L52 188 L50 196 Z" fill="#e0102a"/>
<path d="M76 226 L80 224 L79 229Z" fill="#d81a3a"/>
</g></g>
<path d="M20.1 186.4 C25 184 38 184 46.5 185.4 C55 187 60 188 63.5 189.6 C70 193 75 195 78.3 197 C84 200 87 202 88.9 204.4 C93 209 95 212 95.2 215 C97 220 97 224 96.3 227.7 C95 232 93 236 91 238.3 C88 241 84 242 80.4 242.5 C73 244 68 244 63.5 243.6 C57 243 52 242 48.7 240.4 C43 237 39 235 36 232 C32 228 29 225 27.5 221.4 C24 217 22 213 21.2 208.7 C19.5 204 19 201 19 198 C19 193 19.5 189 20.1 186.4Z" fill="none" stroke="#1a1a1a" stroke-width="1.3" stroke-dasharray="3.5 2.5"/>
<path d="M86.7 264.7H99.4" stroke="#111" stroke-width="1.6"/>
<text x="61" y="278.5" font-size="9.3" text-anchor="middle" fill="#333">Ctrl</text>
<g clip-path="url(#cl_c2)"><g filter="url(#blur1)">
<path d="M108.5 181.0L179.0 181.0L194.0 199.0L194.0 267.5L108.5 267.5Z" fill="#da5f8d"/>
<rect x="108" y="180" width="87" height="88" filter="url(#spW2)" opacity="0.4"/>
<rect x="108" y="180" width="87" height="88" filter="url(#spP2)" opacity="0.7"/>
<rect x="108" y="180" width="87" height="88" filter="url(#spP)" opacity="0.25"/>
<ellipse cx="116.3" cy="188.4" rx="4.5" ry="5" fill="#fff"/>
<path d="M175.8 199.2 C178 200 180 201 180.7 202.5 C182 205 182.5 208 182.4 210.8 C182 214 180.5 218 179 220.7 C177.5 223.5 176 225.5 174 227.3 C172 229 170 230 167.5 230.6 C165 230.8 162.5 229.8 160.9 228.1 C159 226.5 158 224.8 158.4 223.1 C159 220.5 160.5 219 162.5 217.4 C164.5 215.5 166 213.5 167.5 211.6 C169.5 209 171 206.5 172.5 204.1 C173.5 202 174.5 200.5 175.8 199.2Z" fill="#9a88ac"/>
<g clip-path="url(#cl_c2l)">
<rect x="156" y="197" width="28" height="35" filter="url(#spPk)" opacity="0.4"/>
<rect x="156" y="197" width="28" height="35" filter="url(#spW2)" opacity="0.4"/>
<rect x="156" y="197" width="28" height="35" filter="url(#spB)" opacity="0.4"/>
</g>
<path d="M163 225 L180 215 L176 221Z" fill="#e01a3a"/>
<path d="M136 190 L150 186 L146 193Z" fill="#e0506a" opacity="0.7"/>
<path d="M145.2 267.5 L146.5 262 L147.9 267.5Z" fill="#fff"/>
</g></g>
<path d="M175.8 199.2 C178 200 180 201 180.7 202.5 C182 205 182.5 208 182.4 210.8 C182 214 180.5 218 179 220.7 C177.5 223.5 176 225.5 174 227.3 C172 229 170 230 167.5 230.6 C165 230.8 162.5 229.8 160.9 228.1 C159 226.5 158 224.8 158.4 223.1 C159 220.5 160.5 219 162.5 217.4 C164.5 215.5 166 213.5 167.5 211.6 C169.5 209 171 206.5 172.5 204.1 C173.5 202 174.5 200.5 175.8 199.2Z" fill="none" stroke="#1a1a1a" stroke-width="1.3" stroke-dasharray="3.5 2.5"/>
<path d="M175.8 265.3H190.6" stroke="#111" stroke-width="1.6"/>
<text x="153" y="278.3" font-size="9.3" text-anchor="middle" fill="#333">IRD</text>
<g clip-path="url(#cl_he1)"><g filter="url(#blur1)">
<rect x="268.7" y="298.5" width="46.7" height="93.2" fill="url(#gHE1)"/>
<rect x="268" y="298" width="48" height="94" filter="url(#spW2)" opacity="0.45"/>
<rect x="268" y="298" width="48" height="94" filter="url(#spP2)" opacity="0.7"/>
<path d="M276 298.5 L315.4 298.5 L315.4 304 C312 303 310 303 307.5 304 C303 306 299 311 295 317 C292 322 290 330 289.5 340 L288.5 362 L287 340 C286.5 330 285.5 322 283.5 316 C281.5 310 279.5 305 276 298.5Z" fill="#fff"/>
<path d="M307 303 L309 301 L310 304Z" fill="#3a1a1a"/>
<circle cx="278" cy="372" r="1.8" fill="#f3e0ea" opacity="0.8"/>
<circle cx="285" cy="379" r="1.5" fill="#f3e0ea" opacity="0.8"/>
<circle cx="296" cy="368" r="1.7" fill="#f3e0ea" opacity="0.8"/>
<circle cx="305" cy="376" r="1.6" fill="#f3e0ea" opacity="0.8"/>
<circle cx="311" cy="366" r="1.4" fill="#f3e0ea" opacity="0.8"/>
<circle cx="273" cy="381" r="1.3" fill="#f3e0ea" opacity="0.8"/>
<rect x="268.7" y="386" width="46.7" height="5.7" fill="#e0a0bc" opacity="0.8"/>
</g></g>
<path d="M301 384.5H313.4" stroke="#111" stroke-width="1.6"/>
<g clip-path="url(#cl_he2)"><g filter="url(#blur1)">
<rect x="321.6" y="298.5" width="46.3" height="93.2" fill="url(#gHE2)"/>
<rect x="321" y="298" width="47" height="94" filter="url(#spW2)" opacity="0.4"/>
<rect x="321" y="298" width="47" height="94" filter="url(#spP2)" opacity="0.8"/>
<path d="M321.6 298.5 L345.5 298.5 L345.5 312 C344 307 341 304.5 337 304.5 C333 305 330 309 329 316 C327.5 326 326 336 325 346 L321.6 348Z" fill="#fff"/>
<path d="M353 304 L355.5 304 L356 329 L353.5 329Z" fill="#f4e4ee"/>
<path d="M333 346 C331 358 332 370 334 380 M345 350 C344 362 345 372 343 380 M356 345 C357 358 356 370 358 380 M327 362 C330 366 336 367 339 364 M349 366 C352 369 356 369 359 366" fill="none" stroke="#efd6e4" stroke-width="0.8" opacity="0.9"/>
<rect x="321.6" y="381" width="46.3" height="5" fill="#f1dbe6"/>
<rect x="321.6" y="386" width="46.3" height="5.7" fill="#dea0bc"/>
</g></g>
<g clip-path="url(#cl_cl1)"><g filter="url(#blur1)">
<rect x="268.7" y="396.7" width="46.7" height="93.4" fill="#bb8040"/>
<rect x="268" y="396" width="48" height="95" filter="url(#spD)" opacity="0.55"/>
<rect x="268" y="396" width="48" height="95" filter="url(#spL)" opacity="0.5"/>
<path d="M279 396.7 L284.5 396.7 L276 420 L272 444.5 L270 444 L272.5 420 Z" fill="#fff"/>
<path d="M291 396.7 L306 396.7 L302 404 L296 408 Z" fill="#fff"/>
<path d="M313.5 440 L315.4 438 L315.4 462 L313.8 462Z" fill="#fff"/>
<path d="M294 410 C298 409 300 414 300 422 C301 440 303 460 303 475 C303 484 302 490.1 300 490.1 L287 490.1 C285 480 286 466 286.5 450 C287 435 289 420 294 410Z" fill="none" stroke="#f8efe2" stroke-width="3"/>
<path d="M294 410 C298 409 300 414 300 422 C301 440 303 460 303 475 C303 484 302 490.1 300 490.1 L287 490.1 C285 480 286 466 286.5 450 C287 435 289 420 294 410Z" fill="#9fb0c6"/>
<g clip-path="url(#cl_cl1b)">
<g clip-path="url(#cl_cl1b)" fill="#2a3a78" opacity="0.75"><circle cx="297.1" cy="469.6" r="1.26"/><circle cx="303.8" cy="469.4" r="1.35"/><circle cx="284.6" cy="446.6" r="1.36"/><circle cx="297.6" cy="482.8" r="0.78"/><circle cx="293.9" cy="428.5" r="1.08"/><circle cx="296.1" cy="409.1" r="0.85"/><circle cx="289.9" cy="484.1" r="1.24"/><circle cx="287.4" cy="474.2" r="0.80"/><circle cx="297.0" cy="418.5" r="0.70"/><circle cx="302.3" cy="425.4" r="0.85"/><circle cx="304.6" cy="480.4" r="0.90"/><circle cx="304.2" cy="452.8" r="1.17"/><circle cx="288.3" cy="486.1" r="1.18"/><circle cx="304.3" cy="482.2" r="0.91"/><circle cx="291.6" cy="421.8" r="0.80"/><circle cx="285.4" cy="433.0" r="1.12"/><circle cx="284.1" cy="464.3" r="0.94"/><circle cx="290.5" cy="475.9" r="1.04"/><circle cx="290.6" cy="447.9" r="1.19"/><circle cx="285.2" cy="488.9" r="0.72"/><circle cx="299.7" cy="478.1" r="0.71"/><circle cx="300.5" cy="438.4" r="1.10"/><circle cx="284.2" cy="411.9" r="0.83"/><circle cx="304.1" cy="424.3" r="1.23"/><circle cx="303.5" cy="486.2" r="0.94"/><circle cx="291.5" cy="451.6" r="1.24"/><circle cx="286.3" cy="470.1" r="1.26"/><circle cx="302.1" cy="411.0" r="1.36"/><circle cx="285.9" cy="436.3" r="1.13"/><circle cx="303.3" cy="436.2" r="1.35"/><circle cx="295.4" cy="433.9" r="0.92"/><circle cx="287.7" cy="414.5" r="0.80"/><circle cx="298.5" cy="490.7" r="0.81"/><circle cx="285.0" cy="489.9" r="1.07"/><circle cx="292.5" cy="427.7" r="1.12"/><circle cx="301.4" cy="445.8" r="1.00"/><circle cx="285.2" cy="484.0" r="0.72"/><circle cx="294.4" cy="477.6" r="0.79"/><circle cx="299.4" cy="486.8" r="1.14"/><circle cx="300.5" cy="416.9" r="1.00"/><circle cx="287.1" cy="478.1" r="0.91"/><circle cx="293.5" cy="490.9" r="1.30"/><circle cx="304.5" cy="445.6" r="1.04"/><circle cx="299.3" cy="447.8" r="0.90"/><circle cx="292.5" cy="420.2" r="0.96"/><circle cx="304.8" cy="487.7" r="1.14"/><circle cx="294.5" cy="436.1" r="0.76"/><circle cx="289.7" cy="472.9" r="1.31"/><circle cx="291.6" cy="473.2" r="1.24"/><circle cx="298.6" cy="463.1" r="1.23"/><circle cx="291.6" cy="466.5" r="0.90"/><circle cx="294.2" cy="471.9" r="1.18"/><circle cx="290.2" cy="486.5" r="1.15"/><circle cx="296.2" cy="409.0" r="1.08"/><circle cx="289.3" cy="463.7" r="1.02"/><circle cx="301.2" cy="461.7" r="1.26"/><circle cx="291.3" cy="461.5" r="1.22"/><circle cx="301.4" cy="437.1" r="1.29"/><circle cx="302.3" cy="465.1" r="1.38"/><circle cx="304.1" cy="451.0" r="1.07"/><circle cx="287.5" cy="477.4" r="1.36"/><circle cx="294.0" cy="465.4" r="1.20"/><circle cx="299.3" cy="422.3" r="1.25"/><circle cx="296.2" cy="463.2" r="0.99"/><circle cx="297.1" cy="472.3" r="1.15"/><circle cx="299.1" cy="410.3" r="0.81"/><circle cx="293.3" cy="462.0" r="0.85"/><circle cx="298.4" cy="460.4" r="0.73"/><circle cx="293.9" cy="426.8" r="0.74"/><circle cx="286.8" cy="434.3" r="0.83"/><circle cx="288.1" cy="411.0" r="1.03"/><circle cx="292.0" cy="458.8" r="1.11"/><circle cx="289.0" cy="483.0" r="0.70"/><circle cx="292.5" cy="431.1" r="0.99"/><circle cx="286.4" cy="477.0" r="0.96"/><circle cx="284.8" cy="458.9" r="0.77"/><circle cx="295.4" cy="436.2" r="1.11"/><circle cx="304.1" cy="475.9" r="0.99"/><circle cx="301.1" cy="461.3" r="0.96"/><circle cx="287.0" cy="457.5" r="1.09"/><circle cx="304.1" cy="488.3" r="1.13"/><circle cx="291.4" cy="482.2" r="0.70"/><circle cx="286.3" cy="455.0" r="1.13"/><circle cx="287.0" cy="460.2" r="1.32"/><circle cx="291.9" cy="443.8" r="0.86"/><circle cx="290.1" cy="488.7" r="0.97"/><circle cx="304.2" cy="483.8" r="1.12"/><circle cx="289.5" cy="489.4" r="1.05"/><circle cx="292.7" cy="434.5" r="1.39"/><circle cx="294.3" cy="431.8" r="1.03"/><circle cx="286.6" cy="459.6" r="1.01"/><circle cx="290.2" cy="472.9" r="1.28"/><circle cx="284.3" cy="452.2" r="0.89"/><circle cx="303.6" cy="472.9" r="0.87"/><circle cx="289.6" cy="420.8" r="1.39"/><circle cx="290.2" cy="458.5" r="1.03"/><circle cx="297.5" cy="458.1" r="1.22"/><circle cx="286.5" cy="471.1" r="0.91"/><circle cx="295.2" cy="435.9" r="0.91"/><circle cx="295.1" cy="446.5" r="0.95"/><circle cx="299.6" cy="457.0" r="0.73"/><circle cx="289.3" cy="445.8" r="1.34"/><circle cx="302.6" cy="453.3" r="0.71"/><circle cx="300.3" cy="443.5" r="1.10"/><circle cx="298.9" cy="460.5" r="1.04"/><circle cx="303.1" cy="440.0" r="0.97"/><circle cx="301.9" cy="424.3" r="0.91"/><circle cx="301.4" cy="413.5" r="1.29"/><circle cx="298.6" cy="443.9" r="0.90"/><circle cx="300.4" cy="483.6" r="0.80"/><circle cx="294.0" cy="453.6" r="1.05"/><circle cx="290.9" cy="420.7" r="1.11"/><circle cx="301.0" cy="413.7" r="0.86"/><circle cx="301.2" cy="473.7" r="1.16"/><circle cx="284.5" cy="468.0" r="1.39"/><circle cx="305.0" cy="466.2" r="0.73"/><circle cx="301.7" cy="426.2" r="1.15"/><circle cx="304.0" cy="467.1" r="0.79"/><circle cx="290.1" cy="484.2" r="0.80"/><circle cx="296.8" cy="442.4" r="0.81"/><circle cx="297.1" cy="411.6" r="0.78"/><circle cx="292.0" cy="414.0" r="0.74"/><circle cx="296.1" cy="469.6" r="1.31"/><circle cx="286.8" cy="443.8" r="0.92"/><circle cx="296.6" cy="448.6" r="1.36"/><circle cx="291.9" cy="412.6" r="1.19"/><circle cx="287.2" cy="460.4" r="1.05"/><circle cx="303.1" cy="454.1" r="1.13"/><circle cx="289.5" cy="453.8" r="0.88"/><circle cx="299.8" cy="450.9" r="0.79"/><circle cx="288.9" cy="438.8" r="1.22"/><circle cx="287.8" cy="467.2" r="1.16"/><circle cx="285.8" cy="463.4" r="0.76"/><circle cx="286.6" cy="457.3" r="0.87"/><circle cx="302.4" cy="447.9" r="0.93"/><circle cx="300.7" cy="410.4" r="1.21"/><circle cx="285.1" cy="420.5" r="1.37"/><circle cx="298.3" cy="426.5" r="0.78"/><circle cx="304.4" cy="463.2" r="1.27"/><circle cx="286.9" cy="459.9" r="0.95"/><circle cx="288.9" cy="435.7" r="1.13"/><circle cx="291.3" cy="440.0" r="0.80"/><circle cx="301.5" cy="461.8" r="1.26"/><circle cx="293.1" cy="478.7" r="1.06"/><circle cx="296.4" cy="455.6" r="1.22"/><circle cx="292.3" cy="416.1" r="0.72"/><circle cx="288.3" cy="411.3" r="1.32"/><circle cx="294.1" cy="471.1" r="0.70"/><circle cx="293.9" cy="481.9" r="1.13"/><circle cx="293.0" cy="446.6" r="0.77"/><circle cx="287.2" cy="421.2" r="0.96"/><circle cx="292.1" cy="481.1" r="0.81"/><circle cx="289.3" cy="431.0" r="0.81"/><circle cx="290.0" cy="427.5" r="1.04"/><circle cx="284.7" cy="484.7" r="0.96"/><circle cx="303.7" cy="465.1" r="1.17"/><circle cx="293.9" cy="486.5" r="0.78"/><circle cx="298.0" cy="432.2" r="1.17"/><circle cx="299.3" cy="421.5" r="0.84"/><circle cx="284.5" cy="427.1" r="0.75"/><circle cx="292.4" cy="488.8" r="0.95"/><circle cx="290.5" cy="446.8" r="0.90"/><circle cx="299.4" cy="467.6" r="0.81"/><circle cx="289.1" cy="463.8" r="1.36"/><circle cx="297.6" cy="443.7" r="1.38"/><circle cx="284.1" cy="413.1" r="1.25"/><circle cx="292.6" cy="411.7" r="1.08"/><circle cx="304.8" cy="451.1" r="0.95"/><circle cx="286.0" cy="413.9" r="1.33"/><circle cx="294.3" cy="485.7" r="0.74"/><circle cx="289.1" cy="412.2" r="0.98"/><circle cx="285.3" cy="429.2" r="0.99"/><circle cx="290.4" cy="412.3" r="0.73"/><circle cx="304.4" cy="422.9" r="1.06"/><circle cx="292.4" cy="452.1" r="0.76"/><circle cx="290.6" cy="417.0" r="1.08"/><circle cx="303.3" cy="457.7" r="1.30"/><circle cx="288.5" cy="409.4" r="1.08"/><circle cx="294.2" cy="455.4" r="0.96"/><circle cx="297.1" cy="468.2" r="1.34"/><circle cx="290.5" cy="445.3" r="1.28"/><circle cx="288.7" cy="417.6" r="0.92"/><circle cx="285.8" cy="472.1" r="1.27"/><circle cx="290.6" cy="418.8" r="0.76"/><circle cx="289.1" cy="415.0" r="1.00"/><circle cx="296.1" cy="428.4" r="0.74"/><circle cx="298.7" cy="412.0" r="0.84"/><circle cx="290.0" cy="439.0" r="0.77"/><circle cx="292.8" cy="434.1" r="1.23"/><circle cx="295.7" cy="482.4" r="1.16"/></g>
</g>
<circle cx="293" cy="398.5" r="1.3" fill="#33b8c8"/><circle cx="308.5" cy="406.5" r="1.5" fill="#33b8c8"/>
</g></g>
<g clip-path="url(#cl_cl2)"><g filter="url(#blur1)">
<rect x="322.2" y="396.7" width="46.1" height="93.4" fill="#b0702f"/>
<rect x="322" y="396" width="47" height="95" filter="url(#spD)" opacity="0.6"/>
<rect x="322" y="396" width="47" height="95" filter="url(#spL)" opacity="0.4"/>
<path d="M322.2 396.7 L330 396.7 C328 399 327 402 326.5 406 L322.2 410Z" fill="#fff"/>
<path d="M359 396.7 L368.3 396.7 L368.3 407 C366 403 363 399 359 396.7Z" fill="#fff"/>
<path d="M368.3 420 L365 425 L366 435 L368.3 442Z" fill="#fff"/>
<path d="M343 416 C346 416 347 422 348 430 C350 445 353 460 354 475 C355 484 355 490.1 354 490.1 L337 490.1 C336 478 337 465 338 450 C339 435 340 420 343 416Z" fill="none" stroke="#e8d6c0" stroke-width="2"/>
<path d="M343 416 C346 416 347 422 348 430 C350 445 353 460 354 475 C355 484 355 490.1 354 490.1 L337 490.1 C336 478 337 465 338 450 C339 435 340 420 343 416Z" fill="#a6b2c2"/>
<g clip-path="url(#cl_cl2b)">
<g clip-path="url(#cl_cl2b)" fill="#2a3a78" opacity="0.75"><circle cx="352.5" cy="477.3" r="1.04"/><circle cx="340.8" cy="414.0" r="1.16"/><circle cx="345.3" cy="472.5" r="0.96"/><circle cx="351.9" cy="435.0" r="1.26"/><circle cx="351.1" cy="445.9" r="1.08"/><circle cx="350.0" cy="428.9" r="1.09"/><circle cx="352.7" cy="434.4" r="1.26"/><circle cx="350.1" cy="479.0" r="0.93"/><circle cx="337.0" cy="475.6" r="1.26"/><circle cx="344.8" cy="421.2" r="0.84"/><circle cx="349.0" cy="436.4" r="1.37"/><circle cx="347.9" cy="429.5" r="1.16"/><circle cx="342.9" cy="485.8" r="1.34"/><circle cx="346.3" cy="463.6" r="1.19"/><circle cx="352.7" cy="489.2" r="0.72"/><circle cx="343.0" cy="460.3" r="0.91"/><circle cx="348.0" cy="420.9" r="1.32"/><circle cx="346.6" cy="423.0" r="1.16"/><circle cx="341.9" cy="429.1" r="1.04"/><circle cx="338.0" cy="430.2" r="1.31"/><circle cx="350.4" cy="415.0" r="1.24"/><circle cx="335.4" cy="439.6" r="1.33"/><circle cx="348.6" cy="437.6" r="0.96"/><circle cx="343.6" cy="423.8" r="1.40"/><circle cx="336.2" cy="446.6" r="1.22"/><circle cx="343.8" cy="489.5" r="0.87"/><circle cx="356.5" cy="482.7" r="1.17"/><circle cx="354.6" cy="448.4" r="1.28"/><circle cx="352.5" cy="453.8" r="1.03"/><circle cx="350.5" cy="445.5" r="0.76"/><circle cx="351.4" cy="434.5" r="1.04"/><circle cx="352.2" cy="427.3" r="0.72"/><circle cx="337.7" cy="459.4" r="0.95"/><circle cx="340.6" cy="448.8" r="1.35"/><circle cx="340.6" cy="445.6" r="1.32"/><circle cx="348.5" cy="434.6" r="1.03"/><circle cx="345.5" cy="424.9" r="0.96"/><circle cx="341.7" cy="476.0" r="0.93"/><circle cx="349.5" cy="488.7" r="1.35"/><circle cx="343.3" cy="460.4" r="0.92"/><circle cx="343.8" cy="451.6" r="1.26"/><circle cx="355.6" cy="436.4" r="0.70"/><circle cx="344.9" cy="418.4" r="0.72"/><circle cx="352.0" cy="422.6" r="1.20"/><circle cx="343.0" cy="486.3" r="1.30"/><circle cx="336.4" cy="428.8" r="1.36"/><circle cx="348.5" cy="446.5" r="1.25"/><circle cx="352.9" cy="451.9" r="1.03"/><circle cx="337.2" cy="441.9" r="0.80"/><circle cx="348.8" cy="460.7" r="0.80"/><circle cx="348.8" cy="421.5" r="0.77"/><circle cx="349.2" cy="449.6" r="1.33"/><circle cx="348.8" cy="468.0" r="0.79"/><circle cx="353.3" cy="420.4" r="1.13"/><circle cx="355.1" cy="483.9" r="1.33"/><circle cx="344.9" cy="467.4" r="1.25"/><circle cx="338.0" cy="486.6" r="1.34"/><circle cx="344.7" cy="473.9" r="1.01"/><circle cx="341.1" cy="468.9" r="0.74"/><circle cx="352.6" cy="489.3" r="0.90"/><circle cx="355.7" cy="420.4" r="1.30"/><circle cx="341.2" cy="488.4" r="1.00"/><circle cx="355.3" cy="416.5" r="0.76"/><circle cx="353.0" cy="463.2" r="1.07"/><circle cx="335.7" cy="427.3" r="0.96"/><circle cx="336.1" cy="490.5" r="1.24"/><circle cx="355.9" cy="468.0" r="0.94"/><circle cx="336.7" cy="470.3" r="0.78"/><circle cx="347.0" cy="449.7" r="1.05"/><circle cx="336.7" cy="419.7" r="1.06"/><circle cx="335.7" cy="454.5" r="0.81"/><circle cx="341.2" cy="425.6" r="1.10"/><circle cx="343.5" cy="431.2" r="0.86"/><circle cx="347.4" cy="484.1" r="0.99"/><circle cx="338.6" cy="438.4" r="0.87"/><circle cx="347.6" cy="474.6" r="1.10"/><circle cx="339.1" cy="439.0" r="0.97"/><circle cx="344.7" cy="444.6" r="1.40"/><circle cx="347.1" cy="465.0" r="1.20"/><circle cx="349.2" cy="476.0" r="0.96"/><circle cx="349.7" cy="488.9" r="0.81"/><circle cx="348.8" cy="443.6" r="0.74"/><circle cx="335.9" cy="472.4" r="0.78"/><circle cx="350.6" cy="421.7" r="0.96"/><circle cx="335.7" cy="455.8" r="1.25"/><circle cx="340.0" cy="457.5" r="1.35"/><circle cx="341.5" cy="450.3" r="1.21"/><circle cx="354.0" cy="427.0" r="1.16"/><circle cx="337.6" cy="422.6" r="1.39"/><circle cx="336.1" cy="484.8" r="1.23"/><circle cx="349.9" cy="470.2" r="1.16"/><circle cx="341.3" cy="448.1" r="0.84"/><circle cx="353.9" cy="474.0" r="1.25"/><circle cx="339.7" cy="459.6" r="0.88"/><circle cx="352.4" cy="471.3" r="1.40"/><circle cx="350.6" cy="466.7" r="1.24"/><circle cx="337.1" cy="459.8" r="0.72"/><circle cx="343.1" cy="423.0" r="1.36"/><circle cx="335.6" cy="484.9" r="1.36"/><circle cx="344.6" cy="478.1" r="0.74"/><circle cx="338.1" cy="414.8" r="0.75"/><circle cx="335.1" cy="477.8" r="0.76"/><circle cx="348.0" cy="435.0" r="0.79"/><circle cx="344.2" cy="428.0" r="1.38"/><circle cx="343.4" cy="459.7" r="1.09"/><circle cx="348.8" cy="451.0" r="0.89"/><circle cx="338.0" cy="482.4" r="0.83"/><circle cx="344.9" cy="476.2" r="1.10"/><circle cx="355.9" cy="476.3" r="1.06"/><circle cx="337.6" cy="459.6" r="1.03"/><circle cx="354.0" cy="454.9" r="1.19"/><circle cx="352.9" cy="450.2" r="1.29"/><circle cx="354.8" cy="425.9" r="1.34"/><circle cx="354.1" cy="479.8" r="0.94"/><circle cx="340.5" cy="424.2" r="0.96"/><circle cx="353.8" cy="441.9" r="0.70"/><circle cx="341.7" cy="420.4" r="1.14"/><circle cx="351.9" cy="485.3" r="0.76"/><circle cx="343.4" cy="423.7" r="1.34"/><circle cx="353.4" cy="454.0" r="1.37"/><circle cx="346.4" cy="473.8" r="1.04"/><circle cx="343.0" cy="490.6" r="1.29"/><circle cx="348.0" cy="480.8" r="1.15"/><circle cx="352.6" cy="419.1" r="0.79"/><circle cx="337.4" cy="460.4" r="1.20"/><circle cx="338.4" cy="452.9" r="0.78"/><circle cx="350.1" cy="474.0" r="0.76"/><circle cx="356.6" cy="465.2" r="0.79"/><circle cx="342.7" cy="426.2" r="1.21"/><circle cx="355.2" cy="427.5" r="0.83"/><circle cx="348.8" cy="480.2" r="1.22"/><circle cx="345.1" cy="422.5" r="1.13"/><circle cx="345.0" cy="475.9" r="1.10"/><circle cx="351.1" cy="488.8" r="1.14"/><circle cx="355.1" cy="435.1" r="0.70"/><circle cx="354.4" cy="416.3" r="1.40"/><circle cx="345.0" cy="418.7" r="0.89"/><circle cx="350.9" cy="443.6" r="1.14"/><circle cx="337.2" cy="478.3" r="0.96"/><circle cx="353.3" cy="425.3" r="1.17"/><circle cx="345.3" cy="445.1" r="0.71"/><circle cx="346.7" cy="478.5" r="0.77"/><circle cx="344.8" cy="415.0" r="1.40"/><circle cx="356.3" cy="466.2" r="1.04"/><circle cx="336.5" cy="423.3" r="1.19"/><circle cx="352.5" cy="490.2" r="1.30"/><circle cx="344.6" cy="433.7" r="1.08"/><circle cx="342.6" cy="455.9" r="1.32"/><circle cx="345.0" cy="489.6" r="1.20"/><circle cx="336.0" cy="471.5" r="1.16"/><circle cx="348.7" cy="414.3" r="1.32"/><circle cx="345.9" cy="455.3" r="0.82"/><circle cx="335.8" cy="415.1" r="0.85"/><circle cx="341.7" cy="425.9" r="0.74"/><circle cx="351.0" cy="468.1" r="1.32"/><circle cx="339.8" cy="470.1" r="1.12"/><circle cx="337.0" cy="481.4" r="0.95"/><circle cx="339.1" cy="428.1" r="1.35"/><circle cx="339.9" cy="443.6" r="1.08"/><circle cx="342.9" cy="464.5" r="0.76"/><circle cx="344.5" cy="459.0" r="1.13"/><circle cx="348.4" cy="434.7" r="1.15"/><circle cx="356.4" cy="451.1" r="1.15"/><circle cx="353.4" cy="433.4" r="0.89"/><circle cx="356.3" cy="437.2" r="1.00"/><circle cx="343.2" cy="490.5" r="1.08"/><circle cx="354.7" cy="426.5" r="0.89"/><circle cx="349.3" cy="438.5" r="1.16"/><circle cx="346.2" cy="420.0" r="0.78"/><circle cx="344.6" cy="455.1" r="0.82"/></g>
</g>
<path d="M332 399 C340 397 350 397 356 400 L352 408 L338 408Z" fill="#5e3010" opacity="0.55"/>
</g></g>
<g clip-path="url(#cl_ja1)"><g filter="url(#blur1)">
<rect x="267.5" y="495.1" width="47.9" height="93.6" fill="#c4a074"/>
<rect x="267" y="495" width="49" height="94" filter="url(#spD)" opacity="0.4"/>
<rect x="267" y="495" width="49" height="94" filter="url(#spL)" opacity="0.4"/>
<path d="M267.5 495.1 L281 495.1 C276 499 272 503 269.5 509 L267.5 512Z" fill="#fff"/>
<path d="M267.5 522 L271 520 L270 540 L267.5 545Z" fill="#fff"/>
<path d="M298 498 C305 502 309 510 311 520 C313 530 314 538 314.5 544 L313 545 C311.5 535 310 525 307.5 516 C305 508 302 503 298 498Z" fill="#fff"/>
<path d="M290.5 507 C294.5 507 296.5 511 297.5 517 C300 532 303 550 305 566 C306 576 307 583 307 588.7 L284.5 588.7 C284 575 284 560 284.5 545 C285.5 530 286.5 515 290.5 507Z" fill="none" stroke="#e6dccf" stroke-width="2"/>
<path d="M290.5 507 C294.5 507 296.5 511 297.5 517 C300 532 303 550 305 566 C306 576 307 583 307 588.7 L284.5 588.7 C284 575 284 560 284.5 545 C285.5 530 286.5 515 290.5 507Z" fill="#a6a8b2"/>
<g clip-path="url(#cl_ja1c)">
<g clip-path="url(#cl_ja1c)" fill="#3c2a2a" opacity="0.8"><circle cx="289.5" cy="551.2" r="0.96"/><circle cx="297.9" cy="557.9" r="0.75"/><circle cx="284.3" cy="575.5" r="0.88"/><circle cx="289.4" cy="588.6" r="1.03"/><circle cx="303.2" cy="545.5" r="1.15"/><circle cx="287.5" cy="558.7" r="1.31"/><circle cx="296.0" cy="567.5" r="1.17"/><circle cx="285.5" cy="568.9" r="1.11"/><circle cx="290.9" cy="508.6" r="1.31"/><circle cx="294.9" cy="565.7" r="1.32"/><circle cx="300.4" cy="582.5" r="0.98"/><circle cx="302.4" cy="542.9" r="1.35"/><circle cx="304.2" cy="514.1" r="0.80"/><circle cx="289.0" cy="586.1" r="1.01"/><circle cx="298.4" cy="531.0" r="1.06"/><circle cx="292.9" cy="535.1" r="1.11"/><circle cx="297.4" cy="581.0" r="1.18"/><circle cx="305.4" cy="577.1" r="1.39"/><circle cx="299.4" cy="519.5" r="1.30"/><circle cx="306.2" cy="581.1" r="1.10"/><circle cx="300.4" cy="523.5" r="1.28"/><circle cx="297.2" cy="529.7" r="0.74"/><circle cx="303.6" cy="588.2" r="0.76"/><circle cx="302.4" cy="540.1" r="0.81"/><circle cx="290.8" cy="569.8" r="1.31"/><circle cx="285.0" cy="557.0" r="0.73"/><circle cx="300.5" cy="533.5" r="1.32"/><circle cx="306.6" cy="547.9" r="1.40"/><circle cx="291.1" cy="512.4" r="1.12"/><circle cx="284.7" cy="522.4" r="0.99"/><circle cx="298.0" cy="519.0" r="0.73"/><circle cx="304.0" cy="532.0" r="1.37"/><circle cx="304.6" cy="537.4" r="1.02"/><circle cx="296.0" cy="559.4" r="1.12"/><circle cx="296.9" cy="557.5" r="1.36"/><circle cx="295.7" cy="541.8" r="1.20"/><circle cx="289.5" cy="531.0" r="1.38"/><circle cx="296.0" cy="551.5" r="0.71"/><circle cx="293.5" cy="554.1" r="0.71"/><circle cx="298.2" cy="558.5" r="0.74"/><circle cx="298.4" cy="544.7" r="1.18"/><circle cx="292.1" cy="564.7" r="1.22"/><circle cx="284.5" cy="511.0" r="1.17"/><circle cx="306.2" cy="526.8" r="1.02"/><circle cx="297.6" cy="532.6" r="0.95"/><circle cx="291.2" cy="536.6" r="1.12"/><circle cx="290.9" cy="537.3" r="1.24"/><circle cx="284.6" cy="553.2" r="1.21"/><circle cx="291.1" cy="524.5" r="1.26"/><circle cx="289.5" cy="521.6" r="1.00"/><circle cx="300.1" cy="514.5" r="0.93"/><circle cx="291.7" cy="575.2" r="1.01"/><circle cx="303.7" cy="520.1" r="0.94"/><circle cx="299.0" cy="579.4" r="1.02"/><circle cx="289.2" cy="516.0" r="1.07"/><circle cx="288.4" cy="573.0" r="1.29"/><circle cx="288.2" cy="529.1" r="1.27"/><circle cx="298.8" cy="572.9" r="0.94"/><circle cx="287.0" cy="530.2" r="1.26"/><circle cx="290.2" cy="534.7" r="0.99"/><circle cx="293.7" cy="540.0" r="1.34"/><circle cx="287.6" cy="506.4" r="1.36"/><circle cx="304.2" cy="587.9" r="1.00"/><circle cx="305.9" cy="583.0" r="0.86"/><circle cx="301.1" cy="575.4" r="1.16"/><circle cx="295.9" cy="530.0" r="0.94"/><circle cx="289.2" cy="511.6" r="1.11"/><circle cx="290.6" cy="573.2" r="0.73"/><circle cx="304.8" cy="563.6" r="1.35"/><circle cx="304.6" cy="580.7" r="1.10"/><circle cx="284.3" cy="567.9" r="0.82"/><circle cx="290.9" cy="561.0" r="1.07"/><circle cx="293.5" cy="583.9" r="1.13"/><circle cx="291.9" cy="527.0" r="1.30"/><circle cx="295.0" cy="570.9" r="0.95"/><circle cx="288.5" cy="550.4" r="1.27"/><circle cx="287.9" cy="571.7" r="1.35"/><circle cx="302.5" cy="574.4" r="0.71"/><circle cx="298.5" cy="577.6" r="0.73"/><circle cx="290.2" cy="528.3" r="1.07"/><circle cx="293.7" cy="545.3" r="1.24"/><circle cx="284.0" cy="510.6" r="0.79"/><circle cx="286.9" cy="511.7" r="1.38"/><circle cx="303.7" cy="513.1" r="1.05"/><circle cx="291.3" cy="532.1" r="0.95"/><circle cx="298.9" cy="554.7" r="0.95"/><circle cx="288.4" cy="533.3" r="0.79"/><circle cx="296.8" cy="565.4" r="0.97"/><circle cx="285.8" cy="520.8" r="0.96"/><circle cx="297.9" cy="571.0" r="0.97"/><circle cx="302.4" cy="557.7" r="1.00"/><circle cx="292.6" cy="547.2" r="1.19"/><circle cx="293.7" cy="563.6" r="1.02"/><circle cx="289.6" cy="550.5" r="1.19"/><circle cx="285.6" cy="541.3" r="1.00"/><circle cx="304.2" cy="583.7" r="0.96"/><circle cx="304.7" cy="571.6" r="0.88"/><circle cx="294.7" cy="516.2" r="1.27"/><circle cx="299.2" cy="579.6" r="1.25"/><circle cx="299.4" cy="566.9" r="1.09"/><circle cx="286.4" cy="554.8" r="0.70"/><circle cx="287.3" cy="570.3" r="0.73"/><circle cx="286.1" cy="514.2" r="1.32"/><circle cx="288.1" cy="507.9" r="1.29"/><circle cx="286.8" cy="576.0" r="1.17"/><circle cx="303.2" cy="585.1" r="1.11"/><circle cx="302.4" cy="509.0" r="1.24"/><circle cx="295.8" cy="565.4" r="0.77"/><circle cx="301.2" cy="583.6" r="0.74"/><circle cx="291.5" cy="552.8" r="1.28"/><circle cx="289.6" cy="520.9" r="0.87"/><circle cx="298.2" cy="568.5" r="0.98"/><circle cx="292.5" cy="538.9" r="0.95"/><circle cx="293.6" cy="512.9" r="1.05"/><circle cx="306.4" cy="540.3" r="1.22"/><circle cx="287.7" cy="563.3" r="1.23"/><circle cx="299.5" cy="548.9" r="1.04"/><circle cx="298.8" cy="580.5" r="0.80"/><circle cx="286.2" cy="568.1" r="1.34"/><circle cx="295.9" cy="542.8" r="1.20"/><circle cx="288.3" cy="528.2" r="0.84"/><circle cx="297.5" cy="532.1" r="0.86"/><circle cx="299.9" cy="585.1" r="0.91"/><circle cx="300.2" cy="540.3" r="1.30"/><circle cx="297.4" cy="528.2" r="0.85"/><circle cx="284.5" cy="545.8" r="0.97"/><circle cx="288.0" cy="535.9" r="0.93"/><circle cx="301.8" cy="517.9" r="1.39"/><circle cx="295.0" cy="555.7" r="1.03"/><circle cx="303.2" cy="574.2" r="1.09"/><circle cx="295.1" cy="565.8" r="1.30"/><circle cx="293.2" cy="566.9" r="1.37"/><circle cx="294.8" cy="525.1" r="0.86"/><circle cx="300.5" cy="562.1" r="1.37"/><circle cx="303.6" cy="526.1" r="0.83"/><circle cx="289.9" cy="521.5" r="1.19"/><circle cx="303.7" cy="580.7" r="0.88"/><circle cx="303.9" cy="532.0" r="1.00"/><circle cx="300.8" cy="513.1" r="0.76"/><circle cx="303.2" cy="530.2" r="0.95"/><circle cx="297.3" cy="562.1" r="0.70"/><circle cx="291.7" cy="542.2" r="1.04"/><circle cx="288.8" cy="554.6" r="1.37"/><circle cx="293.0" cy="551.2" r="0.78"/><circle cx="290.3" cy="561.2" r="0.78"/><circle cx="304.4" cy="581.4" r="0.77"/><circle cx="305.6" cy="537.1" r="1.24"/><circle cx="301.4" cy="530.5" r="1.17"/><circle cx="299.0" cy="572.9" r="0.89"/><circle cx="301.3" cy="585.8" r="1.17"/><circle cx="296.3" cy="515.4" r="1.05"/><circle cx="292.1" cy="565.6" r="1.17"/><circle cx="297.0" cy="521.1" r="1.15"/><circle cx="298.5" cy="520.9" r="1.32"/><circle cx="299.1" cy="516.2" r="1.35"/><circle cx="287.3" cy="533.5" r="1.20"/><circle cx="297.7" cy="552.1" r="1.15"/><circle cx="294.5" cy="531.9" r="0.82"/><circle cx="285.6" cy="565.4" r="1.23"/><circle cx="296.5" cy="567.4" r="0.95"/><circle cx="290.1" cy="537.8" r="1.31"/><circle cx="285.0" cy="547.9" r="0.87"/><circle cx="301.7" cy="535.4" r="0.93"/><circle cx="293.3" cy="550.9" r="1.24"/><circle cx="292.1" cy="576.3" r="0.78"/><circle cx="290.2" cy="514.3" r="0.78"/><circle cx="301.9" cy="566.4" r="0.83"/><circle cx="288.4" cy="540.6" r="1.22"/><circle cx="302.8" cy="568.1" r="1.11"/><circle cx="287.4" cy="539.1" r="0.84"/></g>
</g>
</g></g>
<g clip-path="url(#cl_ja2)"><g filter="url(#blur1)">
<rect x="322.6" y="495.1" width="46.3" height="93.6" fill="url(#gJA2)"/>
<rect x="322" y="495" width="47" height="94" filter="url(#spD)" opacity="0.4"/>
<rect x="322" y="495" width="47" height="94" filter="url(#spL)" opacity="0.35"/>
<path d="M322.6 495.1 L331 495.1 C328 497 326 500 325 504 L322.6 510Z" fill="#fff"/>
<path d="M356 495.1 L368.9 495.1 L368.9 515 C367 507 363 500 356 495.1Z" fill="#fff"/>
<path d="M341 518 C345 517 347 523 348.5 531 C351 547 354 564 357 579 L359 588.7 L334.5 588.7 C334.5 575 336 560 337 545 C338 532 338.5 522 341 518Z" fill="none" stroke="#dccbb5" stroke-width="1.5"/>
<path d="M341 518 C345 517 347 523 348.5 531 C351 547 354 564 357 579 L359 588.7 L334.5 588.7 C334.5 575 336 560 337 545 C338 532 338.5 522 341 518Z" fill="#a6a6ae"/>
<g clip-path="url(#cl_ja2c)">
<g clip-path="url(#cl_ja2c)" fill="#3a2a30" opacity="0.8"><circle cx="340.1" cy="523.5" r="0.98"/><circle cx="338.0" cy="520.9" r="0.98"/><circle cx="357.9" cy="574.4" r="1.24"/><circle cx="339.8" cy="555.2" r="0.89"/><circle cx="338.5" cy="523.8" r="0.85"/><circle cx="358.1" cy="576.5" r="1.26"/><circle cx="354.8" cy="530.1" r="0.92"/><circle cx="350.3" cy="569.4" r="1.30"/><circle cx="356.9" cy="522.3" r="1.12"/><circle cx="351.5" cy="552.9" r="0.82"/><circle cx="346.3" cy="522.5" r="1.35"/><circle cx="356.5" cy="556.0" r="0.91"/><circle cx="357.6" cy="557.8" r="1.32"/><circle cx="356.0" cy="553.1" r="0.99"/><circle cx="349.6" cy="547.5" r="0.81"/><circle cx="341.9" cy="575.3" r="0.73"/><circle cx="335.2" cy="561.7" r="0.90"/><circle cx="347.9" cy="550.4" r="0.94"/><circle cx="359.9" cy="530.3" r="0.99"/><circle cx="339.3" cy="562.2" r="0.89"/><circle cx="343.3" cy="570.5" r="0.92"/><circle cx="348.5" cy="582.0" r="0.77"/><circle cx="335.6" cy="532.7" r="1.24"/><circle cx="350.0" cy="533.3" r="0.93"/><circle cx="338.6" cy="549.5" r="0.73"/><circle cx="352.1" cy="581.4" r="1.37"/><circle cx="353.1" cy="586.1" r="0.71"/><circle cx="341.5" cy="586.5" r="1.24"/><circle cx="344.7" cy="584.9" r="1.13"/><circle cx="355.3" cy="537.4" r="0.83"/><circle cx="345.5" cy="526.0" r="0.97"/><circle cx="359.0" cy="540.2" r="0.71"/><circle cx="335.2" cy="528.4" r="1.25"/><circle cx="343.4" cy="537.2" r="0.77"/><circle cx="359.5" cy="546.9" r="0.85"/><circle cx="335.5" cy="520.0" r="0.82"/><circle cx="351.6" cy="526.9" r="0.73"/><circle cx="346.8" cy="534.2" r="1.40"/><circle cx="337.2" cy="554.6" r="1.24"/><circle cx="344.6" cy="588.1" r="1.03"/><circle cx="340.3" cy="546.0" r="0.73"/><circle cx="345.0" cy="534.1" r="1.32"/><circle cx="355.6" cy="552.4" r="0.72"/><circle cx="340.6" cy="533.7" r="0.85"/><circle cx="340.0" cy="579.5" r="0.80"/><circle cx="335.3" cy="583.7" r="1.10"/><circle cx="359.8" cy="545.4" r="1.33"/><circle cx="351.0" cy="573.7" r="1.22"/><circle cx="346.9" cy="522.8" r="0.85"/><circle cx="356.7" cy="581.7" r="1.35"/><circle cx="342.8" cy="564.0" r="1.26"/><circle cx="350.7" cy="575.5" r="1.07"/><circle cx="351.0" cy="566.1" r="0.89"/><circle cx="358.0" cy="585.8" r="0.75"/><circle cx="359.2" cy="586.2" r="1.17"/><circle cx="335.2" cy="581.6" r="0.79"/><circle cx="359.2" cy="564.7" r="0.74"/><circle cx="338.3" cy="562.4" r="1.10"/><circle cx="353.4" cy="583.7" r="0.85"/><circle cx="334.1" cy="583.3" r="0.71"/><circle cx="356.8" cy="524.5" r="1.27"/><circle cx="354.4" cy="580.1" r="1.09"/><circle cx="356.8" cy="530.7" r="1.17"/><circle cx="342.6" cy="581.1" r="1.24"/><circle cx="346.3" cy="554.4" r="0.72"/><circle cx="334.9" cy="559.4" r="1.04"/><circle cx="356.5" cy="560.4" r="0.80"/><circle cx="343.4" cy="572.0" r="1.07"/><circle cx="334.3" cy="577.2" r="1.28"/><circle cx="336.2" cy="555.7" r="0.97"/><circle cx="354.5" cy="538.7" r="0.86"/><circle cx="346.7" cy="586.5" r="0.77"/><circle cx="337.0" cy="561.3" r="1.32"/><circle cx="347.3" cy="547.7" r="1.30"/><circle cx="354.2" cy="520.9" r="1.32"/><circle cx="339.1" cy="538.1" r="1.29"/><circle cx="345.0" cy="574.3" r="0.82"/><circle cx="356.7" cy="528.9" r="0.80"/><circle cx="346.9" cy="540.7" r="1.08"/><circle cx="357.5" cy="567.9" r="0.70"/><circle cx="342.1" cy="555.8" r="1.04"/><circle cx="352.6" cy="551.4" r="0.75"/><circle cx="340.4" cy="577.9" r="0.95"/><circle cx="353.9" cy="588.0" r="1.14"/><circle cx="351.6" cy="560.5" r="0.92"/><circle cx="357.7" cy="550.1" r="1.34"/><circle cx="341.9" cy="579.3" r="1.25"/><circle cx="349.9" cy="548.3" r="0.80"/><circle cx="354.0" cy="542.4" r="1.16"/><circle cx="337.5" cy="522.0" r="0.80"/><circle cx="355.0" cy="529.0" r="1.33"/><circle cx="343.7" cy="558.0" r="0.95"/><circle cx="350.1" cy="522.8" r="0.98"/><circle cx="358.3" cy="529.1" r="1.16"/><circle cx="342.5" cy="537.9" r="0.72"/><circle cx="334.5" cy="585.3" r="1.28"/><circle cx="354.8" cy="574.9" r="1.37"/><circle cx="338.1" cy="558.6" r="1.05"/><circle cx="348.9" cy="584.5" r="1.23"/><circle cx="359.2" cy="524.5" r="1.16"/><circle cx="351.6" cy="570.4" r="1.13"/><circle cx="355.6" cy="538.1" r="1.35"/><circle cx="344.6" cy="559.7" r="1.33"/><circle cx="352.3" cy="538.6" r="0.86"/><circle cx="342.5" cy="561.8" r="1.40"/><circle cx="357.4" cy="545.2" r="0.98"/><circle cx="355.3" cy="536.7" r="0.99"/><circle cx="334.3" cy="529.4" r="1.08"/><circle cx="352.0" cy="560.9" r="0.96"/><circle cx="358.7" cy="561.5" r="0.81"/><circle cx="335.8" cy="587.1" r="1.39"/><circle cx="357.9" cy="560.1" r="0.92"/><circle cx="336.4" cy="534.8" r="0.86"/><circle cx="358.1" cy="581.2" r="1.24"/><circle cx="337.9" cy="533.4" r="0.91"/><circle cx="358.6" cy="527.9" r="1.25"/><circle cx="351.7" cy="555.9" r="1.37"/><circle cx="340.8" cy="554.3" r="0.81"/><circle cx="336.5" cy="518.3" r="0.92"/><circle cx="337.2" cy="520.5" r="1.39"/><circle cx="341.5" cy="581.0" r="1.19"/><circle cx="353.0" cy="563.8" r="1.37"/><circle cx="356.8" cy="568.5" r="1.09"/><circle cx="352.0" cy="568.8" r="1.09"/><circle cx="347.1" cy="527.3" r="1.29"/><circle cx="346.6" cy="520.9" r="0.82"/><circle cx="356.7" cy="534.7" r="0.97"/><circle cx="351.7" cy="578.9" r="0.93"/><circle cx="344.1" cy="546.9" r="0.72"/><circle cx="356.8" cy="517.4" r="1.37"/><circle cx="338.0" cy="527.4" r="1.29"/><circle cx="355.4" cy="532.9" r="1.09"/><circle cx="346.4" cy="568.5" r="0.83"/><circle cx="355.5" cy="588.7" r="1.19"/><circle cx="358.0" cy="584.4" r="0.97"/><circle cx="356.0" cy="576.9" r="1.11"/><circle cx="336.8" cy="561.2" r="1.34"/><circle cx="341.9" cy="563.2" r="1.33"/><circle cx="349.6" cy="518.7" r="1.14"/><circle cx="340.6" cy="578.6" r="1.16"/><circle cx="342.0" cy="581.4" r="1.14"/><circle cx="342.8" cy="576.9" r="1.32"/><circle cx="357.2" cy="580.5" r="1.16"/><circle cx="352.2" cy="560.1" r="1.07"/><circle cx="359.7" cy="541.8" r="0.76"/><circle cx="352.6" cy="552.4" r="1.08"/><circle cx="349.5" cy="534.2" r="0.84"/><circle cx="335.9" cy="573.1" r="1.34"/><circle cx="352.1" cy="524.5" r="1.38"/><circle cx="355.5" cy="553.2" r="0.70"/><circle cx="355.9" cy="561.5" r="1.14"/><circle cx="334.5" cy="569.5" r="0.72"/><circle cx="346.4" cy="526.6" r="0.95"/><circle cx="357.1" cy="570.6" r="1.27"/><circle cx="341.8" cy="544.4" r="1.12"/><circle cx="334.9" cy="546.1" r="1.38"/><circle cx="353.6" cy="579.0" r="0.91"/><circle cx="352.0" cy="573.6" r="1.19"/><circle cx="345.4" cy="528.8" r="0.71"/><circle cx="357.1" cy="584.0" r="0.89"/><circle cx="353.7" cy="545.7" r="1.14"/><circle cx="355.9" cy="539.4" r="1.13"/><circle cx="340.7" cy="553.3" r="0.72"/><circle cx="340.9" cy="537.0" r="1.34"/><circle cx="337.4" cy="571.4" r="0.76"/><circle cx="359.6" cy="528.1" r="0.76"/><circle cx="339.5" cy="584.1" r="1.17"/><circle cx="357.2" cy="552.4" r="0.78"/><circle cx="342.9" cy="549.3" r="1.39"/><circle cx="338.3" cy="533.8" r="1.29"/></g>
</g>
</g></g>
<text transform="translate(260.2,343.5) rotate(-90)" font-size="10.6" text-anchor="middle" fill="#383838" stroke="#383838" stroke-width="0.12" textLength="47.1" lengthAdjust="spacingAndGlyphs">HE staining</text>
<text transform="translate(260.5,442.8) rotate(-90)" font-size="10.6" text-anchor="middle" fill="#383838" stroke="#383838" stroke-width="0.12" textLength="38.7" lengthAdjust="spacingAndGlyphs">Claudin 3</text>
<text transform="translate(260.6,541.2) rotate(-90)" font-size="10.6" text-anchor="middle" fill="#383838" stroke="#383838" stroke-width="0.12" textLength="29.1" lengthAdjust="spacingAndGlyphs">JAM-A</text>
<text x="295.6" y="599.4" font-size="9.3" text-anchor="middle" fill="#333">Ctrl</text>
<text x="348.8" y="599.4" font-size="9.3" text-anchor="middle" fill="#333">IRD</text>
<circle cx="284.5" cy="630.9" r="4.2" fill="#e2613a" stroke="#b8402a" stroke-width="0.9"/>
<text x="284.5" y="632.1" font-size="3.4" text-anchor="middle" fill="#fbd9c8">Fe</text>
<circle cx="297.8" cy="627.8" r="4.2" fill="#e2613a" stroke="#b8402a" stroke-width="0.9"/>
<text x="297.8" y="629.0" font-size="3.4" text-anchor="middle" fill="#fbd9c8">Fe</text>
<circle cx="308.4" cy="623.8" r="4.2" fill="#e2613a" stroke="#b8402a" stroke-width="0.9"/>
<text x="308.4" y="625.0" font-size="3.4" text-anchor="middle" fill="#fbd9c8">Fe</text>
<circle cx="284.5" cy="645.3" r="4.2" fill="#e2613a" stroke="#b8402a" stroke-width="0.9"/>
<text x="284.5" y="646.5" font-size="3.4" text-anchor="middle" fill="#fbd9c8">Fe</text>
<circle cx="296.8" cy="641.5" r="4.2" fill="#e2613a" stroke="#b8402a" stroke-width="0.9"/>
<text x="296.8" y="642.7" font-size="3.4" text-anchor="middle" fill="#fbd9c8">Fe</text>
<circle cx="310.3" cy="636.3" r="4.2" fill="#e2613a" stroke="#b8402a" stroke-width="0.9"/>
<text x="310.3" y="637.5" font-size="3.4" text-anchor="middle" fill="#fbd9c8">Fe</text>
<circle cx="299.7" cy="651.8" r="4.2" fill="#e2613a" stroke="#b8402a" stroke-width="0.9"/>
<text x="299.7" y="653.0" font-size="3.4" text-anchor="middle" fill="#fbd9c8">Fe</text>
<circle cx="310.3" cy="649.2" r="4.2" fill="#e2613a" stroke="#b8402a" stroke-width="0.9"/>
<text x="310.3" y="650.4" font-size="3.4" text-anchor="middle" fill="#fbd9c8">Fe</text>
<circle cx="378.3" cy="625.6" r="4.2" fill="#e2613a" stroke="#b8402a" stroke-width="0.9"/>
<text x="378.3" y="626.8" font-size="3.4" text-anchor="middle" fill="#fbd9c8">Fe</text>
<circle cx="371.9" cy="640.0" r="4.2" fill="#e2613a" stroke="#b8402a" stroke-width="0.9"/>
<text x="371.9" y="641.2" font-size="3.4" text-anchor="middle" fill="#fbd9c8">Fe</text>
<circle cx="386.0" cy="639.8" r="4.2" fill="#e2613a" stroke="#b8402a" stroke-width="0.9"/>
<text x="386.0" y="641.0" font-size="3.4" text-anchor="middle" fill="#fbd9c8">Fe</text>
<circle cx="400.0" cy="638.3" r="4.2" fill="#e2613a" stroke="#b8402a" stroke-width="0.9"/>
<text x="400.0" y="639.5" font-size="3.4" text-anchor="middle" fill="#fbd9c8">Fe</text>
<path d="M299.7 657.5L299.7 671.5" stroke="#8a1c22" stroke-width="2.2"/>
<path d="M299.7 677.5L295.7 671.0L299.7 672.2L303.7 671.0Z" fill="#8a1c22"/>
<path d="M320.0 644.5L331.6 650.1" stroke="#8a1c22" stroke-width="2.2"/>
<path d="M336.5 652.5L329.4 653.3L332.2 650.4L332.8 646.5Z" fill="#8a1c22"/>
<path d="M373.8 649.0L399.5 649.0" stroke="#8a1c22" stroke-width="2.2"/>
<path d="M405.5 649.0L399.0 652.8L400.2 649.0L399.0 645.2Z" fill="#8a1c22"/>
<rect x="336" y="617.4" width="31.80000000000001" height="89.10000000000002" fill="#efe0da"/>
<rect x="342" y="617.4" width="25.8" height="7.2" fill="#ead9d2"/>
<path d="M342 624.6H367.8" stroke="#d8bdb3" stroke-width="0.6"/>
<rect x="342" y="624.6" width="25.8" height="7.2" fill="#ead9d2"/>
<path d="M342 631.8H367.8" stroke="#d8bdb3" stroke-width="0.6"/>
<rect x="342" y="631.8" width="25.8" height="9.0" fill="#ead9d2"/>
<path d="M342 640.8H367.8" stroke="#d8bdb3" stroke-width="0.6"/>
<rect x="342" y="640.8" width="25.8" height="6.6" fill="#f3d2cf"/>
<path d="M342 647.4H367.8" stroke="#d8bdb3" stroke-width="0.6"/>
<rect x="342" y="647.4" width="25.8" height="7.2" fill="#eaa3a3"/>
<path d="M342 654.6H367.8" stroke="#d8bdb3" stroke-width="0.6"/>
<rect x="342" y="654.6" width="25.8" height="7.8" fill="#e26c6c"/>
<path d="M342 662.4H367.8" stroke="#d8bdb3" stroke-width="0.6"/>
<rect x="342" y="662.4" width="25.8" height="6.0" fill="#e57a7a"/>
<path d="M342 668.4H367.8" stroke="#d8bdb3" stroke-width="0.6"/>
<rect x="342" y="668.4" width="25.8" height="7.8" fill="#eaa3a3"/>
<path d="M342 676.2H367.8" stroke="#d8bdb3" stroke-width="0.6"/>
<rect x="342" y="676.2" width="25.8" height="7.8" fill="#f3d2cf"/>
<path d="M342 684.0H367.8" stroke="#d8bdb3" stroke-width="0.6"/>
<rect x="342" y="684.0" width="25.8" height="9.6" fill="#ead9d2"/>
<path d="M342 693.6H367.8" stroke="#d8bdb3" stroke-width="0.6"/>
<rect x="342" y="693.6" width="25.8" height="12.9" fill="#ead9d2"/>
<path d="M342 706.5H367.8" stroke="#d8bdb3" stroke-width="0.6"/>
<rect x="336" y="617.4" width="6" height="89.10000000000002" fill="#f3e6e2"/>
<path d="M336.5 618.9H341.0M336.5 621.3H341.0M336.5 623.7H341.0M336.5 626.1H341.0M336.5 628.5H341.0M336.5 630.9H341.0M336.5 633.3H341.0M336.5 635.7H341.0M336.5 638.1H341.0M336.5 640.5H341.0M336.5 642.9H341.0M336.5 645.3H341.0M336.5 647.7H341.0M336.5 650.1H341.0M336.5 652.5H341.0M336.5 654.9H341.0M336.5 657.3H341.0M336.5 659.7H341.0M336.5 662.1H341.0M336.5 664.5H341.0M336.5 666.9H341.0M336.5 669.3H341.0M336.5 671.7H341.0M336.5 674.1H341.0M336.5 676.5H341.0M336.5 678.9H341.0M336.5 681.3H341.0M336.5 683.7H341.0M336.5 686.1H341.0M336.5 688.5H341.0M336.5 690.9H341.0M336.5 693.3H341.0M336.5 695.7H341.0M336.5 698.1H341.0M336.5 700.5H341.0M336.5 702.9H341.0M336.5 705.3H341.0" stroke="#dcc6c0" stroke-width="0.7"/>
<path d="M342 617.4V706.5" stroke="#d0b4aa" stroke-width="0.7"/>
<rect x="336" y="617.4" width="31.80000000000001" height="89.10000000000002" fill="none" stroke="#dcc4bb" stroke-width="0.6"/>
<ellipse cx="362" cy="621" rx="2.4" ry="1.9" fill="#c9aba3"/>
<ellipse cx="361.5" cy="628.3" rx="2.4" ry="1.9" fill="#c9aba3"/>
<ellipse cx="347.5" cy="635.8" rx="2.4" ry="1.9" fill="#c9aba3"/>
<ellipse cx="362" cy="643.5" rx="2.4" ry="1.9" fill="#d6aaa6"/>
<ellipse cx="362" cy="651" rx="2.4" ry="1.9" fill="#c77c80"/>
<ellipse cx="348" cy="658.5" rx="2.4" ry="1.9" fill="#c8363e"/>
<ellipse cx="362" cy="665.5" rx="2.4" ry="1.9" fill="#c8363e"/>
<ellipse cx="362" cy="671.8" rx="2.4" ry="1.9" fill="#c77c80"/>
<ellipse cx="362" cy="680" rx="2.4" ry="1.9" fill="#d6aaa6"/>
<ellipse cx="347.5" cy="689" rx="2.4" ry="1.9" fill="#c9aba3"/>
<ellipse cx="361" cy="694.5" rx="2.4" ry="1.9" fill="#c9aba3"/>
<ellipse cx="362" cy="701" rx="2.4" ry="1.9" fill="#c9aba3"/>
<path d="M286.6 689.4L281.6 686.4" stroke="#9adbe3" stroke-width="0.5"/>
<path d="M286.6 689.4L281.6 692.4" stroke="#9adbe3" stroke-width="0.5"/>
<path d="M286.6 689.4L291.6 686.4" stroke="#9adbe3" stroke-width="0.5"/>
<path d="M286.6 689.4L291.6 692.4" stroke="#9adbe3" stroke-width="0.5"/>
<path d="M286.6 689.4L286.6 685.4" stroke="#9adbe3" stroke-width="0.5"/>
<path d="M286.6 689.4L286.6 693.4" stroke="#9adbe3" stroke-width="0.5"/>
<path d="M286.6 689.4L280.6 689.4" stroke="#9adbe3" stroke-width="0.5"/>
<path d="M286.6 689.4L292.6 689.4" stroke="#9adbe3" stroke-width="0.5"/>
<path d="M284.1 689.4L289.1 689.4" stroke="#1f9aa3" stroke-width="2.2" stroke-linecap="round"/>
<path d="M311.2 678.2L306.2 675.2" stroke="#9adbe3" stroke-width="0.5"/>
<path d="M311.2 678.2L306.2 681.2" stroke="#9adbe3" stroke-width="0.5"/>
<path d="M311.2 678.2L316.2 675.2" stroke="#9adbe3" stroke-width="0.5"/>
<path d="M311.2 678.2L316.2 681.2" stroke="#9adbe3" stroke-width="0.5"/>
<path d="M311.2 678.2L311.2 674.2" stroke="#9adbe3" stroke-width="0.5"/>
<path d="M311.2 678.2L311.2 682.2" stroke="#9adbe3" stroke-width="0.5"/>
<path d="M311.2 678.2L305.2 678.2" stroke="#9adbe3" stroke-width="0.5"/>
<path d="M311.2 678.2L317.2 678.2" stroke="#9adbe3" stroke-width="0.5"/>
<path d="M308.7 678.2L313.7 678.2" stroke="#1f9aa3" stroke-width="2.2" stroke-linecap="round"/>
<path d="M273.5 683.0L277.0 678.0" stroke="#176b7f" stroke-width="1.8" stroke-linecap="round"/>
<path d="M302.0 692.5L305.0 687.0" stroke="#176b7f" stroke-width="1.8" stroke-linecap="round"/>
<path d="M278.0 711.0L282.0 707.0" stroke="#1b4f70" stroke-width="2" stroke-linecap="round"/>
<path d="M265.0 686.0L266.0 687.1L267.0 686.8L268.0 685.5L269.0 684.8L270.0 685.5L271.0 686.8L272.0 687.1L273.0 686.0" stroke="#1f9aa3" stroke-width="0.9" fill="none" transform="rotate(-10 265 686)" stroke-linecap="round"/>
<path d="M288.0 702.8L289.1 703.9L290.2 703.6L291.4 702.3L292.5 701.6L293.6 702.3L294.8 703.6L295.9 703.9L297.0 702.8" stroke="#1f9aa3" stroke-width="0.9" fill="none" transform="rotate(10 288 702.8)" stroke-linecap="round"/>
<path d="M276.0 704.3L276.9 705.4L277.8 705.1L278.6 703.8L279.5 703.1L280.4 703.8L281.2 705.1L282.1 705.4L283.0 704.3" stroke="#2a8fa0" stroke-width="0.9" fill="none" transform="rotate(-20 276 704.3)" stroke-linecap="round"/>
<path d="M304.0 673.5L304.9 674.6L305.8 674.3L306.6 673.0L307.5 672.3L308.4 673.0L309.2 674.3L310.1 674.6L311.0 673.5" stroke="#1f9aa3" stroke-width="0.9" fill="none" transform="rotate(0 304 673.5)" stroke-linecap="round"/>
<path d="M307.0 692.0L308.0 693.1L309.0 692.8L310.0 691.5L311.0 690.8L312.0 691.5L313.0 692.8L314.0 693.1L315.0 692.0" stroke="#1f9aa3" stroke-width="0.9" fill="none" transform="rotate(-15 307 692)" stroke-linecap="round"/>
<path d="M304.0 708.0L304.9 709.1L305.8 708.8L306.6 707.5L307.5 706.8L308.4 707.5L309.2 708.8L310.1 709.1L311.0 708.0" stroke="#5fb8c4" stroke-width="0.9" fill="none" transform="rotate(-30 304 708)" stroke-linecap="round"/>
<path d="M268.0 697.0L268.6 698.1L269.2 697.8L269.9 696.5L270.5 695.8L271.1 696.5L271.8 697.8L272.4 698.1L273.0 697.0" stroke="#8fd3dc" stroke-width="0.9" fill="none" transform="rotate(80 268 697)" stroke-linecap="round"/>
<path d="M289.0 711.0L289.8 712.1L290.5 711.8L291.2 710.5L292.0 709.8L292.8 710.5L293.5 711.8L294.2 712.1L295.0 711.0" stroke="#7ac0c8" stroke-width="0.9" fill="none" transform="rotate(15 289 711)" stroke-linecap="round"/>
<circle cx="280.5" cy="677.7" r="1.1" fill="#1f3550"/>
<circle cx="297.4" cy="677.4" r="1.1" fill="#1f3550"/>
<circle cx="285" cy="681" r="1.1" fill="#1f3550"/>
<circle cx="294.3" cy="689.4" r="1.1" fill="#1f3550"/>
<circle cx="311.2" cy="698.6" r="1.1" fill="#1f3550"/>
<circle cx="295" cy="697.7" r="1.1" fill="#1f3550"/>
<circle cx="285.8" cy="700.5" r="1.1" fill="#1f3550"/>
<circle cx="292.8" cy="707.4" r="1.1" fill="#1f3550"/>
<circle cx="286.6" cy="714.3" r="1.1" fill="#1f3550"/>
<circle cx="321.2" cy="683.5" r="1.1" fill="#1f3550"/>
<circle cx="277.4" cy="694.3" r="1.3" fill="#2f9e9e"/>
<circle cx="302" cy="699" r="1.3" fill="#2f9e9e"/>
<circle cx="300.5" cy="685.8" r="1.3" fill="#2f9e9e"/>
<path d="M315.8 703.0L315.8 709.5" stroke="#8fd3dc" stroke-width="1.6" stroke-linecap="round"/>
<path d="M270.0 705.0L271.0 706.1L272.0 705.8L273.0 704.5L274.0 703.8L275.0 704.5L276.0 705.8L277.0 706.1L278.0 705.0" stroke="#1f9aa3" stroke-width="0.9" fill="none" transform="rotate(20 270 705)" stroke-linecap="round"/>
<path d="M296.0 713.0L296.9 714.1L297.8 713.8L298.6 712.5L299.5 711.8L300.4 712.5L301.2 713.8L302.1 714.1L303.0 713.0" stroke="#2aa5b0" stroke-width="0.9" fill="none" transform="rotate(-10 296 713)" stroke-linecap="round"/>
<path d="M312.0 686.0L312.8 687.1L313.5 686.8L314.2 685.5L315.0 684.8L315.8 685.5L316.5 686.8L317.2 687.1L318.0 686.0" stroke="#5fb8c4" stroke-width="0.9" fill="none" transform="rotate(30 312 686)" stroke-linecap="round"/>
<path d="M281.0 696.5L281.8 697.6L282.5 697.3L283.2 696.0L284.0 695.3L284.8 696.0L285.5 697.3L286.2 697.6L287.0 696.5" stroke="#7ac0c8" stroke-width="0.9" fill="none" transform="rotate(-5 281 696.5)" stroke-linecap="round"/>
<path d="M263.0 692.0L263.8 693.1L264.5 692.8L265.2 691.5L266.0 690.8L266.8 691.5L267.5 692.8L268.2 693.1L269.0 692.0" stroke="#9fd6de" stroke-width="0.9" fill="none" transform="rotate(60 263 692)" stroke-linecap="round"/>
<path d="M291.0 683.5L294.0 679.5" stroke="#1f9aa3" stroke-width="1.7" stroke-linecap="round"/>
<path d="M266.0 700.0L268.0 696.0" stroke="#8fd3dc" stroke-width="1.6" stroke-linecap="round"/>
<path d="M300.0 712.5L305.0 710.5" stroke="#2a8fa0" stroke-width="1.7" stroke-linecap="round"/>
<circle cx="272" cy="690" r="1.1" fill="#1f3550"/>
<circle cx="306" cy="703" r="1.1" fill="#1f3550"/>
<circle cx="318" cy="706.5" r="1.1" fill="#1f3550"/>
<circle cx="268" cy="681" r="1.1" fill="#1f3550"/>
<path d="M318.5 691.5 H328.5 L328.5 689.5 L335.8 694.8 L328.5 700 L328.5 698 H318.5 Z" fill="none" stroke="#3a86b8" stroke-width="1" stroke-dasharray="1.3 1.1"/>
<rect x="-15" y="-3.3" width="30" height="6.6" rx="3.3" transform="translate(387.5,680) rotate(-27)" fill="none" stroke="#3a86b8" stroke-width="1" stroke-dasharray="1.3 1.2"/>
<text x="413" y="637.2" font-size="11" fill="#2a2a2a" textLength="83.8" lengthAdjust="spacingAndGlyphs">Aged Neutrophils</text>
<text x="413" y="649.4" font-size="11" fill="#2a2a2a" textLength="47.7" lengthAdjust="spacingAndGlyphs">Hemolysis</text>
<text x="413" y="661.7" font-size="11" fill="#2a2a2a" textLength="68.9" lengthAdjust="spacingAndGlyphs">Vaso-occlusion</text>
<text x="413" y="674" font-size="11" fill="#2a2a2a" textLength="71.1" lengthAdjust="spacingAndGlyphs">Organ damage</text>
<path d="M269.2 717 H498.5" stroke="#333" stroke-width="1.3" stroke-dasharray="1.5 1.7"/>
<circle cx="304.8" cy="730.4" r="4.2" fill="#e2613a" stroke="#b8402a" stroke-width="0.9"/>
<text x="304.8" y="731.6" font-size="3.4" text-anchor="middle" fill="#fbd9c8">Fe</text>
<circle cx="291.9" cy="742.9" r="4.2" fill="#e2613a" stroke="#b8402a" stroke-width="0.9"/>
<text x="291.9" y="744.1" font-size="3.4" text-anchor="middle" fill="#fbd9c8">Fe</text>
<circle cx="384.6" cy="740.4" r="4.2" fill="#e2613a" stroke="#b8402a" stroke-width="0.9"/>
<text x="384.6" y="741.6" font-size="3.4" text-anchor="middle" fill="#fbd9c8">Fe</text>
<path d="M306.7 743.5 L328 752.5" stroke="#4a1c24" stroke-width="1.2"/>
<path d="M301.2 748.8 V776" stroke="#7a3038" stroke-width="1"/>
<path d="M299.6 774 L301.2 778.5 L302.8 774Z" fill="#7a3038"/>
<rect x="335.6" y="720" width="29.599999999999966" height="85.5" fill="#efe0da"/>
<rect x="341.6" y="720.0" width="23.6" height="10.0" fill="#ead9d2"/>
<path d="M341.6 730.0H365.2" stroke="#d8bdb3" stroke-width="0.6"/>
<rect x="341.6" y="730.0" width="23.6" height="10.5" fill="#ead9d2"/>
<path d="M341.6 740.5H365.2" stroke="#d8bdb3" stroke-width="0.6"/>
<rect x="341.6" y="740.5" width="23.6" height="7.5" fill="#ead9d2"/>
<path d="M341.6 748.0H365.2" stroke="#d8bdb3" stroke-width="0.6"/>
<rect x="341.6" y="748.0" width="23.6" height="9.0" fill="#ead9d2"/>
<path d="M341.6 757.0H365.2" stroke="#d8bdb3" stroke-width="0.6"/>
<rect x="341.6" y="757.0" width="23.6" height="9.0" fill="#ead9d2"/>
<path d="M341.6 766.0H365.2" stroke="#d8bdb3" stroke-width="0.6"/>
<rect x="341.6" y="766.0" width="23.6" height="11.5" fill="#f3d2cf"/>
<path d="M341.6 777.5H365.2" stroke="#d8bdb3" stroke-width="0.6"/>
<rect x="341.6" y="777.5" width="23.6" height="11.3" fill="#f3d2cf"/>
<path d="M341.6 788.8H365.2" stroke="#d8bdb3" stroke-width="0.6"/>
<rect x="341.6" y="788.8" width="23.6" height="8.2" fill="#ead9d2"/>
<path d="M341.6 797.0H365.2" stroke="#d8bdb3" stroke-width="0.6"/>
<rect x="341.6" y="797.0" width="23.6" height="8.5" fill="#ead9d2"/>
<path d="M341.6 805.5H365.2" stroke="#d8bdb3" stroke-width="0.6"/>
<rect x="335.6" y="720" width="6" height="85.5" fill="#f3e6e2"/>
<path d="M336.1 721.5H340.6M336.1 723.9H340.6M336.1 726.3H340.6M336.1 728.7H340.6M336.1 731.1H340.6M336.1 733.5H340.6M336.1 735.9H340.6M336.1 738.3H340.6M336.1 740.7H340.6M336.1 743.1H340.6M336.1 745.5H340.6M336.1 747.9H340.6M336.1 750.3H340.6M336.1 752.7H340.6M336.1 755.1H340.6M336.1 757.5H340.6M336.1 759.9H340.6M336.1 762.3H340.6M336.1 764.7H340.6M336.1 767.1H340.6M336.1 769.5H340.6M336.1 771.9H340.6M336.1 774.3H340.6M336.1 776.7H340.6M336.1 779.1H340.6M336.1 781.5H340.6M336.1 783.9H340.6M336.1 786.3H340.6M336.1 788.7H340.6M336.1 791.1H340.6M336.1 793.5H340.6M336.1 795.9H340.6M336.1 798.3H340.6M336.1 800.7H340.6M336.1 803.1H340.6" stroke="#dcc6c0" stroke-width="0.7"/>
<path d="M341.6 720V805.5" stroke="#d0b4aa" stroke-width="0.7"/>
<rect x="335.6" y="720" width="29.599999999999966" height="85.5" fill="none" stroke="#dcc4bb" stroke-width="0.6"/>
<ellipse cx="347" cy="726" rx="2.4" ry="1.9" fill="#c9aba3"/>
<ellipse cx="361" cy="734.5" rx="2.4" ry="1.9" fill="#c9aba3"/>
<ellipse cx="361" cy="744" rx="2.4" ry="1.9" fill="#c9aba3"/>
<ellipse cx="347" cy="752" rx="2.4" ry="1.9" fill="#c9aba3"/>
<ellipse cx="361" cy="762" rx="2.4" ry="1.9" fill="#c9aba3"/>
<ellipse cx="361" cy="771.5" rx="2.4" ry="1.9" fill="#d5a6a2"/>
<ellipse cx="361" cy="783" rx="2.4" ry="1.9" fill="#d5a6a2"/>
<ellipse cx="347" cy="792.5" rx="2.4" ry="1.9" fill="#c9aba3"/>
<ellipse cx="361" cy="801" rx="2.4" ry="1.9" fill="#c9aba3"/>
<path d="M305 782.7L300 779.7" stroke="#9adbe3" stroke-width="0.5"/>
<path d="M305 782.7L300 785.7" stroke="#9adbe3" stroke-width="0.5"/>
<path d="M305 782.7L310 779.7" stroke="#9adbe3" stroke-width="0.5"/>
<path d="M305 782.7L310 785.7" stroke="#9adbe3" stroke-width="0.5"/>
<path d="M305 782.7L305 778.7" stroke="#9adbe3" stroke-width="0.5"/>
<path d="M305 782.7L305 786.7" stroke="#9adbe3" stroke-width="0.5"/>
<path d="M305 782.7L299 782.7" stroke="#9adbe3" stroke-width="0.5"/>
<path d="M305 782.7L311 782.7" stroke="#9adbe3" stroke-width="0.5"/>
<path d="M302.5 782.7L307.5 782.7" stroke="#1f9aa3" stroke-width="2.2" stroke-linecap="round"/>
<path d="M282.0 784.0L285.0 778.5" stroke="#1b5f7c" stroke-width="1.8" stroke-linecap="round"/>
<path d="M324.5 777.0L329.0 773.5" stroke="#1b4f70" stroke-width="1.9" stroke-linecap="round"/>
<path d="M290.0 793.5L291.1 794.6L292.2 794.3L293.4 793.0L294.5 792.3L295.6 793.0L296.8 794.3L297.9 794.6L299.0 793.5" stroke="#2a7f95" stroke-width="0.9" fill="none" transform="rotate(10 290 793.5)" stroke-linecap="round"/>
<path d="M289.0 802.0L289.8 803.1L290.5 802.8L291.2 801.5L292.0 800.8L292.8 801.5L293.5 802.8L294.2 803.1L295.0 802.0" stroke="#6fb5b5" stroke-width="0.9" fill="none" transform="rotate(10 289 802)" stroke-linecap="round"/>
<path d="M271.0 797.0L272.2 798.1L273.5 797.8L274.8 796.5L276.0 795.8L277.2 796.5L278.5 797.8L279.8 798.1L281.0 797.0" stroke="#c8d2da" stroke-width="0.9" fill="none" transform="rotate(-35 271 797)" stroke-linecap="round"/>
<path d="M312.0 774.0L312.8 775.1L313.5 774.8L314.2 773.5L315.0 772.8L315.8 773.5L316.5 774.8L317.2 775.1L318.0 774.0" stroke="#8fd3dc" stroke-width="0.9" fill="none" transform="rotate(-40 312 774)" stroke-linecap="round"/>
<path d="M317.0 795.8L317.8 796.9L318.5 796.6L319.2 795.3L320.0 794.6L320.8 795.3L321.5 796.6L322.2 796.9L323.0 795.8" stroke="#9ad0d8" stroke-width="0.9" fill="none" transform="rotate(-10 317 795.8)" stroke-linecap="round"/>
<path d="M280.0 778.0L280.8 779.1L281.5 778.8L282.2 777.5L283.0 776.8L283.8 777.5L284.5 778.8L285.2 779.1L286.0 778.0" stroke="#dfe6ea" stroke-width="0.9" fill="none" transform="rotate(-50 280 778)" stroke-linecap="round"/>
<circle cx="289.7" cy="785.3" r="1.0" fill="#3a3550"/>
<circle cx="304.3" cy="790.8" r="1.0" fill="#3a3550"/>
<circle cx="325.8" cy="784.7" r="1.0" fill="#3a3550"/>
<circle cx="296.6" cy="798.8" r="1.3" fill="#2f7f80"/>
<path d="M312.0 795.0L312.0 801.0" stroke="#8fd3dc" stroke-width="1.5" stroke-linecap="round"/>
<path d="M320.5 791 H331" stroke="#a9cde3" stroke-width="0.9"/><path d="M331 789.6 L333.3 791 L331 792.4" fill="none" stroke="#a9cde3" stroke-width="0.8"/>
<text x="356.5" y="815.2" font-size="8" text-anchor="middle" fill="#222">Intestinal barrier</text>
<path d="M373.8 749 H392" stroke="#4a1c24" stroke-width="1.3"/><path d="M390.5 747.3 L393.8 749 L390.5 750.7Z" fill="#4a1c24"/>
<path d="M373.8 766 H390.5" stroke="#a9cde3" stroke-width="1.1"/><circle cx="391.8" cy="766" r="1.3" fill="none" stroke="#a9cde3" stroke-width="0.8"/>
<text x="412.5" y="742.7" font-size="7" fill="#2a2a2a" textLength="53" lengthAdjust="spacingAndGlyphs">Aged Neutrophils</text>
<path d="M472.3 737 V744" stroke="#222" stroke-width="1.1"/><path d="M470.5 743 L472.3 747 L474.1 743Z" fill="#222"/>
<text x="412.5" y="753.5" font-size="7" fill="#2a2a2a" textLength="30" lengthAdjust="spacingAndGlyphs">Hemolysis</text>
<path d="M452.2 748 V755" stroke="#222" stroke-width="1.1"/><path d="M450.4 754 L452.2 758 L454.0 754Z" fill="#222"/>
<text x="412.5" y="763.9" font-size="7" fill="#2a2a2a" textLength="43.9" lengthAdjust="spacingAndGlyphs">Vaso-occlusion</text>
<path d="M465.4 759.5 V766.5" stroke="#222" stroke-width="1.1"/><path d="M463.59999999999997 765.5 L465.4 769.5 L467.2 765.5Z" fill="#222"/>
<text x="412.5" y="775" font-size="7" fill="#2a2a2a" textLength="41.6" lengthAdjust="spacingAndGlyphs">Organ damage</text>
<path d="M465.4 771 V778" stroke="#222" stroke-width="1.1"/><path d="M463.59999999999997 777 L465.4 781 L467.2 777Z" fill="#222"/>
</svg></body></html>
